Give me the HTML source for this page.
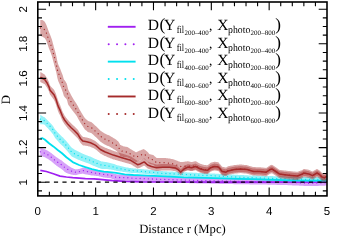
<!DOCTYPE html>
<html><head><meta charset="utf-8"><title>D vs r</title>
<style>html,body{margin:0;padding:0;background:#fff;}svg{display:block;}text{font-family:"Liberation Serif",serif;fill:#000;text-rendering:geometricPrecision;}.s{font-family:"Liberation Sans",sans-serif;font-size:11.5px;}</style></head><body>
<svg width="346" height="242" viewBox="0 0 346 242">
<rect x="0" y="0" width="346" height="242" fill="#fff"/>
<path d="M40.30 170.30 L46.40 171.50 L53.30 173.70 L60.00 176.10 L66.40 177.00 L72.70 177.70 L79.10 178.20 L85.40 178.60 L94.00 178.80 L100.00 179.40 L107.30 180.10 L112.70 180.60 L125.40 181.30 L142.00 181.80 L175.00 182.00 L230.00 182.10 L326.70 182.20" fill="none" stroke="#a020f0" stroke-width="1.70" stroke-linejoin="round"/>
<path d="M40.3 147.9 L40.8 148.0 L41.3 148.2 L41.8 148.3 L42.3 148.5 L42.8 148.6 L43.3 148.8 L43.8 148.9 L44.3 149.1 L44.8 149.3 L45.3 149.6 L45.8 149.8 L46.3 150.0 L46.8 150.3 L47.3 150.5 L47.8 150.8 L48.3 151.0 L48.8 151.4 L49.3 151.7 L49.8 152.0 L50.3 152.4 L50.8 152.7 L51.3 153.1 L51.8 153.4 L52.3 153.9 L52.8 154.3 L53.3 154.7 L53.8 155.1 L54.3 155.6 L54.8 156.0 L55.3 156.3 L55.8 156.7 L56.3 157.0 L56.8 157.4 L57.3 157.8 L57.8 158.1 L58.3 158.5 L58.8 158.8 L59.3 159.1 L59.8 159.4 L60.3 159.7 L60.8 160.0 L61.3 160.3 L61.8 160.6 L62.3 161.0 L62.8 161.4 L63.3 161.9 L63.8 162.3 L64.3 162.7 L64.8 163.2 L65.3 163.5 L65.8 163.8 L66.3 164.2 L66.8 164.5 L67.3 164.9 L67.8 165.3 L68.3 165.7 L68.8 166.0 L69.3 166.3 L69.8 166.6 L70.3 166.9 L70.8 167.2 L71.3 167.6 L71.8 167.9 L72.3 168.1 L72.8 168.3 L73.3 168.5 L73.8 168.7 L74.3 168.9 L74.8 169.0 L75.3 169.2 L75.8 169.4 L76.3 169.3 L76.8 169.3 L77.3 169.2 L77.8 169.2 L78.3 169.1 L78.8 169.1 L79.3 169.0 L79.8 168.8 L80.3 168.6 L80.8 168.4 L81.3 168.2 L81.8 168.0 L82.3 167.8 L82.8 167.6 L83.3 167.7 L83.8 167.7 L84.3 167.8 L84.8 167.8 L85.3 167.9 L85.8 168.0 L86.3 168.2 L86.8 168.3 L87.3 168.4 L87.8 168.6 L88.3 168.7 L88.8 168.9 L89.3 169.0 L89.8 169.1 L90.3 169.3 L90.8 169.4 L91.3 169.5 L91.8 169.6 L92.3 169.7 L92.8 169.8 L93.3 169.9 L93.8 170.0 L94.3 170.1 L94.8 170.2 L95.3 170.3 L95.8 170.4 L96.3 170.5 L96.8 170.6 L97.3 170.7 L97.8 170.8 L98.3 170.9 L98.8 171.0 L99.3 171.0 L99.8 171.1 L100.3 171.1 L100.8 171.2 L101.3 171.3 L101.8 171.3 L102.3 171.4 L102.8 171.4 L103.3 171.4 L103.8 171.5 L104.3 171.5 L104.8 171.6 L105.3 171.7 L105.8 171.7 L106.3 171.8 L106.8 171.8 L107.3 171.9 L107.8 172.0 L108.3 172.0 L108.8 172.1 L109.3 172.1 L109.8 172.2 L110.3 172.2 L110.8 172.3 L111.3 172.5 L111.8 172.7 L112.3 173.0 L112.8 173.2 L113.3 173.4 L113.8 173.6 L114.3 173.9 L114.8 174.0 L115.3 174.1 L115.8 174.1 L116.3 174.2 L116.8 174.2 L117.3 174.3 L117.8 174.4 L118.3 174.4 L118.8 174.5 L119.3 174.5 L119.8 174.5 L120.3 174.5 L120.8 174.5 L121.3 174.6 L121.8 174.6 L122.3 174.6 L122.8 174.6 L123.3 174.6 L123.8 174.6 L124.3 174.6 L124.8 174.6 L125.3 174.6 L125.8 174.7 L126.3 174.7 L126.8 174.7 L127.3 174.7 L127.8 174.7 L128.3 174.8 L128.8 174.8 L129.3 174.8 L129.8 174.9 L130.3 174.9 L130.8 175.0 L131.3 175.0 L131.8 175.0 L132.3 175.1 L132.8 175.1 L133.3 175.2 L133.8 175.2 L134.3 175.2 L134.8 175.3 L135.3 175.3 L135.8 175.3 L136.3 175.4 L136.8 175.4 L137.3 175.4 L137.8 175.4 L138.3 175.4 L138.8 175.5 L139.3 175.5 L139.8 175.5 L140.3 175.5 L140.8 175.5 L141.3 175.5 L141.8 175.6 L142.3 175.6 L142.8 175.6 L143.3 175.6 L143.8 175.6 L144.3 175.7 L144.8 175.7 L145.3 175.7 L145.8 175.7 L146.3 175.7 L146.8 175.8 L147.3 175.8 L147.8 175.8 L148.3 175.8 L148.8 175.8 L149.3 175.9 L149.8 175.9 L150.3 175.9 L150.8 175.9 L151.3 176.0 L151.8 176.0 L152.3 176.0 L152.8 176.0 L153.3 176.0 L153.8 176.1 L154.3 176.1 L154.8 176.1 L155.3 176.1 L155.8 176.1 L156.3 176.2 L156.8 176.2 L157.3 176.2 L157.8 176.2 L158.3 176.2 L158.8 176.3 L159.3 176.3 L159.8 176.3 L160.3 176.3 L160.8 176.3 L161.3 176.4 L161.8 176.4 L162.3 176.4 L162.8 176.4 L163.3 176.4 L163.8 176.4 L164.3 176.5 L164.8 176.5 L165.3 176.5 L165.8 176.5 L166.3 176.5 L166.8 176.5 L167.3 176.6 L167.8 176.6 L168.3 176.6 L168.8 176.6 L169.3 176.6 L169.8 176.6 L170.3 176.7 L170.8 176.7 L171.3 176.7 L171.8 176.7 L172.3 176.7 L172.8 176.8 L173.3 176.8 L173.8 176.8 L174.3 176.8 L174.8 176.8 L175.3 176.8 L175.8 176.9 L176.3 176.9 L176.8 176.9 L177.3 176.9 L177.8 176.9 L178.3 176.9 L178.8 176.9 L179.3 177.0 L179.8 177.0 L180.3 177.0 L180.8 177.0 L181.3 177.0 L181.8 177.0 L182.3 177.0 L182.8 177.1 L183.3 177.1 L183.8 177.1 L184.3 177.1 L184.8 177.1 L185.3 177.1 L185.8 177.1 L186.3 177.2 L186.8 177.2 L187.3 177.2 L187.8 177.2 L188.3 177.2 L188.8 177.2 L189.3 177.2 L189.8 177.3 L190.3 177.3 L190.8 177.3 L191.3 177.3 L191.8 177.3 L192.3 177.3 L192.8 177.3 L193.3 177.4 L193.8 177.4 L194.3 177.4 L194.8 177.4 L195.3 177.4 L195.8 177.4 L196.3 177.4 L196.8 177.5 L197.3 177.5 L197.8 177.5 L198.3 177.5 L198.8 177.5 L199.3 177.5 L199.8 177.6 L200.3 177.6 L200.8 177.6 L201.3 177.6 L201.8 177.6 L202.3 177.6 L202.8 177.6 L203.3 177.6 L203.8 177.6 L204.3 177.7 L204.8 177.7 L205.3 177.7 L205.8 177.7 L206.3 177.7 L206.8 177.7 L207.3 177.7 L207.8 177.7 L208.3 177.8 L208.8 177.8 L209.3 177.8 L209.8 177.8 L210.3 177.8 L210.8 177.8 L211.3 177.8 L211.8 177.8 L212.3 177.9 L212.8 177.9 L213.3 177.9 L213.8 177.9 L214.3 177.9 L214.8 177.9 L215.3 177.9 L215.8 177.9 L216.3 178.0 L216.8 178.0 L217.3 178.0 L217.8 178.0 L218.3 178.0 L218.8 178.0 L219.3 178.0 L219.8 178.0 L220.3 178.1 L220.8 178.1 L221.3 178.1 L221.8 178.1 L222.3 178.1 L222.8 178.1 L223.3 178.1 L223.8 178.1 L224.3 178.2 L224.8 178.2 L225.3 178.2 L225.8 178.2 L226.3 178.2 L226.8 178.2 L227.3 178.2 L227.8 178.2 L228.3 178.2 L228.8 178.3 L229.3 178.3 L229.8 178.3 L230.3 178.3 L230.8 178.3 L231.3 178.3 L231.8 178.3 L232.3 178.3 L232.8 178.3 L233.3 178.3 L233.8 178.3 L234.3 178.4 L234.8 178.4 L235.3 178.4 L235.8 178.4 L236.3 178.4 L236.8 178.4 L237.3 178.4 L237.8 178.4 L238.3 178.4 L238.8 178.4 L239.3 178.4 L239.8 178.4 L240.3 178.4 L240.8 178.4 L241.3 178.5 L241.8 178.5 L242.3 178.5 L242.8 178.5 L243.3 178.5 L243.8 178.5 L244.3 178.5 L244.8 178.5 L245.3 178.5 L245.8 178.5 L246.3 178.5 L246.8 178.5 L247.3 178.5 L247.8 178.5 L248.3 178.6 L248.8 178.6 L249.3 178.6 L249.8 178.6 L250.3 178.6 L250.8 178.6 L251.3 178.6 L251.8 178.6 L252.3 178.6 L252.8 178.6 L253.3 178.6 L253.8 178.6 L254.3 178.6 L254.8 178.6 L255.3 178.7 L255.8 178.7 L256.3 178.7 L256.8 178.7 L257.3 178.7 L257.8 178.7 L258.3 178.7 L258.8 178.7 L259.3 178.7 L259.8 178.7 L260.3 178.7 L260.8 178.7 L261.3 178.8 L261.8 178.8 L262.3 178.8 L262.8 178.8 L263.3 178.8 L263.8 178.8 L264.3 178.8 L264.8 178.8 L265.3 178.9 L265.8 178.9 L266.3 178.9 L266.8 178.9 L267.3 178.9 L267.8 178.9 L268.3 178.9 L268.8 178.9 L269.3 179.0 L269.8 179.0 L270.3 179.0 L270.8 179.0 L271.3 179.0 L271.8 179.0 L272.3 179.0 L272.8 179.0 L273.3 179.1 L273.8 179.1 L274.3 179.1 L274.8 179.1 L275.3 179.1 L275.8 179.1 L276.3 179.1 L276.8 179.1 L277.3 179.2 L277.8 179.2 L278.3 179.2 L278.8 179.2 L279.3 179.2 L279.8 179.2 L280.3 179.2 L280.8 179.2 L281.3 179.3 L281.8 179.3 L282.3 179.3 L282.8 179.3 L283.3 179.3 L283.8 179.3 L284.3 179.3 L284.8 179.3 L285.3 179.4 L285.8 179.4 L286.3 179.4 L286.8 179.4 L287.3 179.5 L287.8 179.5 L288.3 179.5 L288.8 179.5 L289.3 179.5 L289.8 179.6 L290.3 179.6 L290.8 179.6 L291.3 179.6 L291.8 179.7 L292.3 179.7 L292.8 179.7 L293.3 179.7 L293.8 179.7 L294.3 179.8 L294.8 179.8 L295.3 179.8 L295.8 179.8 L296.3 179.9 L296.8 179.9 L297.3 179.9 L297.8 179.9 L298.3 180.0 L298.8 180.0 L299.3 180.0 L299.8 180.0 L300.3 180.0 L300.8 180.1 L301.3 180.1 L301.8 180.1 L302.3 180.1 L302.8 180.2 L303.3 180.2 L303.8 180.2 L304.3 180.2 L304.8 180.2 L305.3 180.3 L305.8 180.3 L306.3 180.3 L306.8 180.3 L307.3 180.4 L307.8 180.4 L308.3 180.4 L308.8 180.4 L309.3 180.4 L309.8 180.5 L310.3 180.5 L310.8 180.5 L311.3 180.4 L311.8 180.4 L312.3 180.4 L312.8 180.4 L313.3 180.4 L313.8 180.4 L314.3 180.4 L314.8 180.3 L315.3 180.3 L315.8 180.3 L316.3 180.3 L316.8 180.3 L317.3 180.3 L317.8 180.3 L318.3 180.2 L318.8 180.2 L319.3 180.2 L319.8 180.2 L320.3 180.2 L320.8 180.2 L321.3 180.2 L321.8 180.1 L322.3 180.1 L322.8 180.1 L323.3 180.1 L323.8 180.1 L324.3 180.1 L324.8 180.1 L325.3 180.0 L325.8 180.0 L326.7 180.0 L326.7 185.6 L325.8 185.6 L325.3 185.6 L324.8 185.7 L324.3 185.7 L323.8 185.7 L323.3 185.7 L322.8 185.7 L322.3 185.7 L321.8 185.8 L321.3 185.8 L320.8 185.8 L320.3 185.8 L319.8 185.8 L319.3 185.8 L318.8 185.8 L318.3 185.9 L317.8 185.9 L317.3 185.9 L316.8 185.9 L316.3 185.9 L315.8 185.9 L315.3 186.0 L314.8 186.0 L314.3 186.0 L313.8 186.0 L313.3 186.0 L312.8 186.0 L312.3 186.0 L311.8 186.1 L311.3 186.1 L310.8 186.1 L310.3 186.1 L309.8 186.1 L309.3 186.1 L308.8 186.1 L308.3 186.0 L307.8 186.0 L307.3 186.0 L306.8 186.0 L306.3 186.0 L305.8 185.9 L305.3 185.9 L304.8 185.9 L304.3 185.9 L303.8 185.9 L303.3 185.8 L302.8 185.8 L302.3 185.8 L301.8 185.8 L301.3 185.7 L300.8 185.7 L300.3 185.7 L299.8 185.7 L299.3 185.7 L298.8 185.6 L298.3 185.6 L297.8 185.6 L297.3 185.6 L296.8 185.6 L296.3 185.5 L295.8 185.5 L295.3 185.5 L294.8 185.5 L294.3 185.4 L293.8 185.4 L293.3 185.4 L292.8 185.4 L292.3 185.4 L291.8 185.3 L291.3 185.3 L290.8 185.3 L290.3 185.3 L289.8 185.3 L289.3 185.2 L288.8 185.2 L288.3 185.2 L287.8 185.2 L287.3 185.1 L286.8 185.1 L286.3 185.1 L285.8 185.1 L285.3 185.1 L284.8 185.0 L284.3 185.0 L283.8 185.0 L283.3 185.0 L282.8 185.0 L282.3 185.0 L281.8 185.0 L281.3 185.0 L280.8 185.0 L280.3 184.9 L279.8 184.9 L279.3 184.9 L278.8 184.9 L278.3 184.9 L277.8 184.9 L277.3 184.9 L276.8 184.9 L276.3 184.8 L275.8 184.8 L275.3 184.8 L274.8 184.8 L274.3 184.8 L273.8 184.8 L273.3 184.8 L272.8 184.8 L272.3 184.8 L271.8 184.7 L271.3 184.7 L270.8 184.7 L270.3 184.7 L269.8 184.7 L269.3 184.7 L268.8 184.7 L268.3 184.7 L267.8 184.7 L267.3 184.6 L266.8 184.6 L266.3 184.6 L265.8 184.6 L265.3 184.6 L264.8 184.6 L264.3 184.6 L263.8 184.6 L263.3 184.6 L262.8 184.5 L262.3 184.5 L261.8 184.5 L261.3 184.5 L260.8 184.5 L260.3 184.5 L259.8 184.5 L259.3 184.5 L258.8 184.5 L258.3 184.5 L257.8 184.4 L257.3 184.4 L256.8 184.4 L256.3 184.4 L255.8 184.4 L255.3 184.4 L254.8 184.4 L254.3 184.4 L253.8 184.4 L253.3 184.4 L252.8 184.4 L252.3 184.4 L251.8 184.4 L251.3 184.4 L250.8 184.4 L250.3 184.4 L249.8 184.4 L249.3 184.3 L248.8 184.3 L248.3 184.3 L247.8 184.3 L247.3 184.3 L246.8 184.3 L246.3 184.3 L245.8 184.3 L245.3 184.3 L244.8 184.3 L244.3 184.3 L243.8 184.3 L243.3 184.3 L242.8 184.3 L242.3 184.3 L241.8 184.3 L241.3 184.2 L240.8 184.2 L240.3 184.2 L239.8 184.2 L239.3 184.2 L238.8 184.2 L238.3 184.2 L237.8 184.2 L237.3 184.2 L236.8 184.2 L236.3 184.2 L235.8 184.2 L235.3 184.2 L234.8 184.2 L234.3 184.2 L233.8 184.2 L233.3 184.1 L232.8 184.1 L232.3 184.1 L231.8 184.1 L231.3 184.1 L230.8 184.1 L230.3 184.1 L229.8 184.1 L229.3 184.1 L228.8 184.1 L228.3 184.1 L227.8 184.1 L227.3 184.0 L226.8 184.0 L226.3 184.0 L225.8 184.0 L225.3 184.0 L224.8 184.0 L224.3 184.0 L223.8 184.0 L223.3 184.0 L222.8 183.9 L222.3 183.9 L221.8 183.9 L221.3 183.9 L220.8 183.9 L220.3 183.9 L219.8 183.9 L219.3 183.9 L218.8 183.9 L218.3 183.8 L217.8 183.8 L217.3 183.8 L216.8 183.8 L216.3 183.8 L215.8 183.8 L215.3 183.8 L214.8 183.8 L214.3 183.8 L213.8 183.7 L213.3 183.7 L212.8 183.7 L212.3 183.7 L211.8 183.7 L211.3 183.7 L210.8 183.7 L210.3 183.7 L209.8 183.7 L209.3 183.6 L208.8 183.6 L208.3 183.6 L207.8 183.6 L207.3 183.6 L206.8 183.6 L206.3 183.6 L205.8 183.6 L205.3 183.6 L204.8 183.6 L204.3 183.5 L203.8 183.5 L203.3 183.5 L202.8 183.5 L202.3 183.5 L201.8 183.5 L201.3 183.5 L200.8 183.5 L200.3 183.5 L199.8 183.4 L199.3 183.4 L198.8 183.4 L198.3 183.4 L197.8 183.4 L197.3 183.4 L196.8 183.4 L196.3 183.3 L195.8 183.3 L195.3 183.3 L194.8 183.3 L194.3 183.3 L193.8 183.3 L193.3 183.3 L192.8 183.3 L192.3 183.2 L191.8 183.2 L191.3 183.2 L190.8 183.2 L190.3 183.2 L189.8 183.2 L189.3 183.2 L188.8 183.1 L188.3 183.1 L187.8 183.1 L187.3 183.1 L186.8 183.1 L186.3 183.1 L185.8 183.1 L185.3 183.0 L184.8 183.0 L184.3 183.0 L183.8 183.0 L183.3 183.0 L182.8 183.0 L182.3 183.0 L181.8 183.0 L181.3 182.9 L180.8 182.9 L180.3 182.9 L179.8 182.9 L179.3 182.9 L178.8 182.9 L178.3 182.9 L177.8 182.8 L177.3 182.8 L176.8 182.8 L176.3 182.8 L175.8 182.8 L175.3 182.8 L174.8 182.8 L174.3 182.7 L173.8 182.7 L173.3 182.7 L172.8 182.7 L172.3 182.7 L171.8 182.7 L171.3 182.7 L170.8 182.6 L170.3 182.6 L169.8 182.6 L169.3 182.6 L168.8 182.6 L168.3 182.6 L167.8 182.5 L167.3 182.5 L166.8 182.5 L166.3 182.5 L165.8 182.5 L165.3 182.5 L164.8 182.4 L164.3 182.4 L163.8 182.4 L163.3 182.4 L162.8 182.4 L162.3 182.4 L161.8 182.3 L161.3 182.3 L160.8 182.3 L160.3 182.3 L159.8 182.3 L159.3 182.3 L158.8 182.2 L158.3 182.2 L157.8 182.2 L157.3 182.2 L156.8 182.2 L156.3 182.1 L155.8 182.1 L155.3 182.1 L154.8 182.1 L154.3 182.1 L153.8 182.0 L153.3 182.0 L152.8 182.0 L152.3 182.0 L151.8 182.0 L151.3 181.9 L150.8 181.9 L150.3 181.9 L149.8 181.9 L149.3 181.9 L148.8 181.8 L148.3 181.8 L147.8 181.8 L147.3 181.8 L146.8 181.8 L146.3 181.7 L145.8 181.7 L145.3 181.7 L144.8 181.7 L144.3 181.7 L143.8 181.6 L143.3 181.6 L142.8 181.6 L142.3 181.6 L141.8 181.6 L141.3 181.5 L140.8 181.5 L140.3 181.5 L139.8 181.5 L139.3 181.5 L138.8 181.5 L138.3 181.4 L137.8 181.4 L137.3 181.4 L136.8 181.4 L136.3 181.4 L135.8 181.3 L135.3 181.3 L134.8 181.3 L134.3 181.2 L133.8 181.2 L133.3 181.2 L132.8 181.1 L132.3 181.1 L131.8 181.0 L131.3 181.0 L130.8 181.0 L130.3 180.9 L129.8 180.9 L129.3 180.8 L128.8 180.8 L128.3 180.8 L127.8 180.7 L127.3 180.7 L126.8 180.7 L126.3 180.7 L125.8 180.7 L125.3 180.6 L124.8 180.6 L124.3 180.6 L123.8 180.6 L123.3 180.6 L122.8 180.6 L122.3 180.6 L121.8 180.6 L121.3 180.6 L120.8 180.5 L120.3 180.5 L119.8 180.5 L119.3 180.5 L118.8 180.5 L118.3 180.4 L117.8 180.4 L117.3 180.3 L116.8 180.2 L116.3 180.2 L115.8 180.1 L115.3 180.1 L114.8 180.0 L114.3 179.9 L113.8 179.6 L113.3 179.4 L112.8 179.2 L112.3 179.0 L111.8 178.7 L111.3 178.5 L110.8 178.3 L110.3 178.2 L109.8 178.2 L109.3 178.1 L108.8 178.1 L108.3 178.0 L107.8 178.0 L107.3 177.9 L106.8 177.8 L106.3 177.8 L105.8 177.7 L105.3 177.7 L104.8 177.6 L104.3 177.5 L103.8 177.4 L103.3 177.4 L102.8 177.3 L102.3 177.1 L101.8 177.0 L101.3 176.9 L100.8 176.8 L100.3 176.6 L99.8 176.5 L99.3 176.4 L98.8 176.3 L98.3 176.1 L97.8 176.0 L97.3 176.0 L96.8 175.9 L96.3 175.9 L95.8 175.8 L95.3 175.8 L94.8 175.7 L94.3 175.7 L93.8 175.6 L93.3 175.6 L92.8 175.5 L92.3 175.5 L91.8 175.4 L91.3 175.4 L90.8 175.3 L90.3 175.2 L89.8 175.1 L89.3 175.0 L88.8 174.9 L88.3 174.8 L87.8 174.7 L87.3 174.6 L86.8 174.5 L86.3 174.5 L85.8 174.4 L85.3 174.3 L84.8 174.2 L84.3 174.0 L83.8 173.9 L83.3 173.7 L82.8 173.6 L82.3 173.7 L81.8 173.8 L81.3 173.9 L80.8 174.0 L80.3 174.1 L79.8 174.1 L79.3 174.2 L78.8 174.3 L78.3 174.5 L77.8 174.6 L77.3 174.8 L76.8 174.9 L76.3 175.1 L75.8 175.2 L75.3 175.1 L74.8 175.1 L74.3 175.0 L73.8 174.9 L73.3 174.9 L72.8 174.8 L72.3 174.8 L71.8 174.7 L71.3 174.5 L70.8 174.4 L70.3 174.3 L69.8 174.1 L69.3 174.0 L68.8 173.8 L68.3 173.7 L67.8 173.5 L67.3 173.3 L66.8 173.1 L66.3 172.9 L65.8 172.6 L65.3 172.3 L64.8 171.9 L64.3 171.5 L63.8 171.0 L63.3 170.6 L62.8 170.1 L62.3 169.7 L61.8 169.3 L61.3 168.9 L60.8 168.6 L60.3 168.3 L59.8 168.0 L59.3 167.6 L58.8 167.3 L58.3 167.0 L57.8 166.6 L57.3 166.2 L56.8 165.9 L56.3 165.5 L55.8 165.1 L55.3 164.7 L54.8 164.3 L54.3 163.9 L53.8 163.5 L53.3 163.0 L52.8 162.6 L52.3 162.2 L51.8 161.7 L51.3 161.3 L50.8 161.0 L50.3 160.6 L49.8 160.2 L49.3 159.9 L48.8 159.5 L48.3 159.2 L47.8 158.9 L47.3 158.6 L46.8 158.4 L46.3 158.1 L45.8 157.8 L45.3 157.6 L44.8 157.3 L44.3 157.1 L43.8 156.9 L43.3 156.7 L42.8 156.5 L42.3 156.4 L41.8 156.2 L41.3 156.0 L40.8 155.9 L40.3 155.7 Z" fill="#a020f0" fill-opacity="0.42" stroke="none"/>
<path d="M40.30 151.80 L44.40 153.10 L48.30 155.10 L51.60 157.40 L54.60 160.00 L58.10 162.60 L61.90 165.00 L65.10 167.80 L68.30 169.70 L72.10 171.40 L75.90 172.30 L79.30 171.60 L82.90 170.60 L86.70 171.40 L90.50 172.30 L94.40 172.90 L98.20 173.50 L102.50 174.30 L107.30 174.90 L110.80 175.30 L114.60 177.00 L119.10 177.50 L127.40 177.70 L135.00 178.30 L142.60 178.60 L160.00 179.30 L175.00 179.80 L200.00 180.50 L230.00 181.20 L260.00 181.60 L285.00 182.20 L310.00 183.30 L326.70 182.80" fill="none" stroke="#a020f0" stroke-width="1.3" stroke-linecap="round" stroke-dasharray="0.01 4.1"/>
<path d="M40.30 138.60 L42.50 138.20 L44.70 139.50 L49.00 143.20 L53.30 146.40 L57.70 150.00 L62.00 153.30 L66.40 157.30 L72.70 162.10 L79.10 165.00 L85.40 167.20 L91.80 169.10 L98.20 170.60 L103.90 171.60 L107.30 171.80 L116.00 172.80 L124.70 174.30 L133.40 175.00 L142.00 175.40 L160.00 176.20 L184.00 177.40 L205.00 177.80 L230.00 178.70 L260.00 179.40 L290.00 180.30 L310.00 180.70 L326.70 180.60" fill="none" stroke="#00e0ee" stroke-width="1.85" stroke-linejoin="round"/>
<path d="M40.3 114.7 L40.8 115.0 L41.3 115.4 L41.8 115.7 L42.3 116.1 L42.8 116.4 L43.3 116.8 L43.8 117.0 L44.3 117.1 L44.8 117.6 L45.3 118.1 L45.8 118.5 L46.3 119.0 L46.8 119.5 L47.3 120.0 L47.8 120.5 L48.3 121.0 L48.8 121.5 L49.3 122.0 L49.8 122.5 L50.3 122.9 L50.8 123.5 L51.3 124.1 L51.8 124.6 L52.3 125.2 L52.8 125.7 L53.3 126.5 L53.8 127.3 L54.3 128.2 L54.8 129.0 L55.3 129.7 L55.8 130.3 L56.3 130.8 L56.8 131.3 L57.3 131.9 L57.8 132.4 L58.3 133.0 L58.8 133.5 L59.3 134.0 L59.8 134.5 L60.3 135.1 L60.8 135.5 L61.3 136.0 L61.8 136.4 L62.3 136.9 L62.8 137.3 L63.3 137.8 L63.8 138.4 L64.3 138.9 L64.8 139.5 L65.3 140.0 L65.8 140.6 L66.3 141.1 L66.8 141.7 L67.3 142.2 L67.8 142.9 L68.3 143.5 L68.8 144.1 L69.3 144.7 L69.8 145.4 L70.3 146.0 L70.8 146.7 L71.3 147.3 L71.8 147.8 L72.3 148.1 L72.8 148.4 L73.3 148.7 L73.8 149.1 L74.3 149.4 L74.8 149.7 L75.3 150.0 L75.8 150.2 L76.3 150.5 L76.8 150.8 L77.3 151.0 L77.8 151.3 L78.3 151.6 L78.8 151.8 L79.3 152.1 L79.8 152.3 L80.3 152.5 L80.8 152.8 L81.3 153.0 L81.8 153.3 L82.3 153.5 L82.8 153.7 L83.3 153.9 L83.8 154.1 L84.3 154.4 L84.8 154.6 L85.3 154.8 L85.8 155.0 L86.3 155.2 L86.8 155.3 L87.3 155.5 L87.8 155.7 L88.3 155.9 L88.8 156.0 L89.3 156.2 L89.8 156.4 L90.3 156.6 L90.8 156.8 L91.3 157.1 L91.8 157.3 L92.3 157.6 L92.8 157.8 L93.3 158.1 L93.8 158.3 L94.3 158.5 L94.8 158.7 L95.3 158.9 L95.8 159.1 L96.3 159.3 L96.8 159.5 L97.3 159.7 L97.8 159.9 L98.3 160.1 L98.8 160.3 L99.3 160.5 L99.8 160.7 L100.3 160.9 L100.8 161.1 L101.3 161.4 L101.8 161.4 L102.3 161.5 L102.8 161.6 L103.3 161.7 L103.8 161.8 L104.3 161.8 L104.8 161.9 L105.3 162.0 L105.8 162.1 L106.3 162.1 L106.8 162.2 L107.3 162.3 L107.8 162.4 L108.3 162.5 L108.8 162.7 L109.3 162.8 L109.8 162.9 L110.3 163.0 L110.8 163.2 L111.3 163.3 L111.8 163.4 L112.3 163.5 L112.8 163.7 L113.3 163.8 L113.8 164.0 L114.3 164.1 L114.8 164.3 L115.3 164.5 L115.8 164.7 L116.3 164.9 L116.8 165.1 L117.3 165.2 L117.8 165.4 L118.3 165.5 L118.8 165.6 L119.3 165.7 L119.8 165.8 L120.3 165.9 L120.8 166.1 L121.3 166.2 L121.8 166.3 L122.3 166.4 L122.8 166.6 L123.3 166.7 L123.8 166.8 L124.3 166.9 L124.8 167.1 L125.3 167.2 L125.8 167.3 L126.3 167.4 L126.8 167.5 L127.3 167.5 L127.8 167.6 L128.3 167.7 L128.8 167.8 L129.3 167.9 L129.8 168.0 L130.3 168.1 L130.8 168.1 L131.3 168.2 L131.8 168.2 L132.3 168.3 L132.8 168.3 L133.3 168.4 L133.8 168.4 L134.3 168.5 L134.8 168.5 L135.3 168.6 L135.8 168.6 L136.3 168.7 L136.8 168.7 L137.3 168.8 L137.8 168.8 L138.3 168.9 L138.8 168.9 L139.3 169.0 L139.8 169.0 L140.3 169.0 L140.8 169.1 L141.3 169.1 L141.8 169.2 L142.3 169.2 L142.8 169.3 L143.3 169.3 L143.8 169.3 L144.3 169.4 L144.8 169.4 L145.3 169.5 L145.8 169.5 L146.3 169.6 L146.8 169.6 L147.3 169.6 L147.8 169.7 L148.3 169.7 L148.8 169.8 L149.3 169.8 L149.8 169.9 L150.3 169.9 L150.8 169.9 L151.3 170.0 L151.8 170.0 L152.3 170.1 L152.8 170.1 L153.3 170.2 L153.8 170.2 L154.3 170.3 L154.8 170.4 L155.3 170.4 L155.8 170.5 L156.3 170.5 L156.8 170.6 L157.3 170.6 L157.8 170.7 L158.3 170.7 L158.8 170.8 L159.3 170.8 L159.8 170.9 L160.3 170.9 L160.8 171.0 L161.3 171.1 L161.8 171.1 L162.3 171.1 L162.8 171.1 L163.3 171.2 L163.8 171.2 L164.3 171.2 L164.8 171.2 L165.3 171.3 L165.8 171.3 L166.3 171.3 L166.8 171.3 L167.3 171.4 L167.8 171.4 L168.3 171.4 L168.8 171.4 L169.3 171.5 L169.8 171.5 L170.3 171.5 L170.8 171.5 L171.3 171.6 L171.8 171.6 L172.3 171.6 L172.8 171.6 L173.3 171.7 L173.8 171.7 L174.3 171.7 L174.8 171.7 L175.3 171.8 L175.8 171.8 L176.3 171.8 L176.8 171.8 L177.3 171.8 L177.8 171.9 L178.3 171.9 L178.8 171.9 L179.3 171.9 L179.8 172.0 L180.3 172.0 L180.8 172.0 L181.3 172.0 L181.8 172.1 L182.3 172.1 L182.8 172.1 L183.3 172.2 L183.8 172.2 L184.3 172.2 L184.8 172.2 L185.3 172.3 L185.8 172.3 L186.3 172.3 L186.8 172.3 L187.3 172.4 L187.8 172.4 L188.3 172.4 L188.8 172.4 L189.3 172.5 L189.8 172.5 L190.3 172.5 L190.8 172.5 L191.3 172.6 L191.8 172.6 L192.3 172.6 L192.8 172.7 L193.3 172.7 L193.8 172.7 L194.3 172.7 L194.8 172.8 L195.3 172.8 L195.8 172.8 L196.3 172.8 L196.8 172.8 L197.3 172.9 L197.8 172.9 L198.3 172.9 L198.8 172.9 L199.3 172.9 L199.8 173.0 L200.3 173.0 L200.8 173.0 L201.3 173.0 L201.8 173.0 L202.3 173.1 L202.8 173.1 L203.3 173.1 L203.8 173.1 L204.3 173.1 L204.8 173.2 L205.3 173.2 L205.8 173.2 L206.3 173.2 L206.8 173.2 L207.3 173.3 L207.8 173.3 L208.3 173.3 L208.8 173.3 L209.3 173.3 L209.8 173.4 L210.3 173.4 L210.8 173.4 L211.3 173.4 L211.8 173.5 L212.3 173.5 L212.8 173.5 L213.3 173.5 L213.8 173.6 L214.3 173.6 L214.8 173.6 L215.3 173.7 L215.8 173.7 L216.3 173.7 L216.8 173.7 L217.3 173.8 L217.8 173.8 L218.3 173.8 L218.8 173.8 L219.3 173.9 L219.8 173.9 L220.3 173.9 L220.8 174.0 L221.3 174.0 L221.8 174.0 L222.3 174.0 L222.8 174.1 L223.3 174.1 L223.8 174.1 L224.3 174.1 L224.8 174.2 L225.3 174.2 L225.8 174.2 L226.3 174.2 L226.8 174.3 L227.3 174.3 L227.8 174.3 L228.3 174.4 L228.8 174.4 L229.3 174.4 L229.8 174.4 L230.3 174.5 L230.8 174.5 L231.3 174.5 L231.8 174.5 L232.3 174.6 L232.8 174.6 L233.3 174.6 L233.8 174.6 L234.3 174.7 L234.8 174.7 L235.3 174.7 L235.8 174.7 L236.3 174.8 L236.8 174.8 L237.3 174.8 L237.8 174.8 L238.3 174.9 L238.8 174.9 L239.3 174.9 L239.8 174.9 L240.3 175.0 L240.8 175.0 L241.3 175.0 L241.8 175.0 L242.3 175.1 L242.8 175.1 L243.3 175.1 L243.8 175.1 L244.3 175.2 L244.8 175.2 L245.3 175.2 L245.8 175.2 L246.3 175.3 L246.8 175.3 L247.3 175.3 L247.8 175.3 L248.3 175.4 L248.8 175.4 L249.3 175.4 L249.8 175.4 L250.3 175.4 L250.8 175.5 L251.3 175.5 L251.8 175.5 L252.3 175.5 L252.8 175.5 L253.3 175.5 L253.8 175.6 L254.3 175.6 L254.8 175.6 L255.3 175.6 L255.8 175.6 L256.3 175.6 L256.8 175.6 L257.3 175.7 L257.8 175.7 L258.3 175.7 L258.8 175.7 L259.3 175.7 L259.8 175.7 L260.3 175.7 L260.8 175.8 L261.3 175.8 L261.8 175.8 L262.3 175.8 L262.8 175.8 L263.3 175.8 L263.8 175.8 L264.3 175.9 L264.8 175.9 L265.3 175.9 L265.8 175.9 L266.3 175.9 L266.8 175.9 L267.3 176.0 L267.8 176.0 L268.3 176.0 L268.8 176.0 L269.3 176.0 L269.8 176.0 L270.3 176.0 L270.8 176.1 L271.3 176.1 L271.8 176.1 L272.3 176.1 L272.8 176.1 L273.3 176.2 L273.8 176.2 L274.3 176.2 L274.8 176.2 L275.3 176.2 L275.8 176.3 L276.3 176.3 L276.8 176.3 L277.3 176.3 L277.8 176.3 L278.3 176.4 L278.8 176.4 L279.3 176.4 L279.8 176.4 L280.3 176.4 L280.8 176.5 L281.3 176.5 L281.8 176.5 L282.3 176.5 L282.8 176.5 L283.3 176.6 L283.8 176.6 L284.3 176.6 L284.8 176.6 L285.3 176.6 L285.8 176.7 L286.3 176.7 L286.8 176.7 L287.3 176.7 L287.8 176.7 L288.3 176.8 L288.8 176.8 L289.3 176.8 L289.8 176.8 L290.3 176.8 L290.8 176.8 L291.3 176.8 L291.8 176.8 L292.3 176.9 L292.8 176.9 L293.3 176.9 L293.8 176.9 L294.3 176.9 L294.8 176.9 L295.3 176.9 L295.8 176.9 L296.3 176.9 L296.8 176.9 L297.3 176.9 L297.8 176.9 L298.3 176.9 L298.8 176.9 L299.3 177.0 L299.8 177.0 L300.3 177.0 L300.8 177.0 L301.3 177.0 L301.8 177.0 L302.3 177.0 L302.8 177.0 L303.3 177.0 L303.8 177.0 L304.3 177.0 L304.8 177.0 L305.3 177.0 L305.8 177.0 L306.3 177.1 L306.8 177.1 L307.3 177.1 L307.8 177.1 L308.3 177.1 L308.8 177.1 L309.3 177.1 L309.8 177.1 L310.3 177.1 L310.8 177.1 L311.3 177.1 L311.8 177.1 L312.3 177.1 L312.8 177.1 L313.3 177.1 L313.8 177.1 L314.3 177.1 L314.8 177.1 L315.3 177.1 L315.8 177.1 L316.3 177.1 L316.8 177.1 L317.3 177.1 L317.8 177.1 L318.3 177.1 L318.8 177.1 L319.3 177.0 L319.8 177.0 L320.3 177.0 L320.8 177.0 L321.3 177.0 L321.8 177.0 L322.3 177.0 L322.8 177.0 L323.3 177.0 L323.8 177.0 L324.3 177.0 L324.8 177.0 L325.3 177.0 L325.8 177.0 L326.7 177.0 L326.7 181.6 L325.8 181.6 L325.3 181.6 L324.8 181.6 L324.3 181.6 L323.8 181.6 L323.3 181.6 L322.8 181.6 L322.3 181.6 L321.8 181.6 L321.3 181.6 L320.8 181.6 L320.3 181.6 L319.8 181.6 L319.3 181.6 L318.8 181.6 L318.3 181.6 L317.8 181.6 L317.3 181.7 L316.8 181.7 L316.3 181.7 L315.8 181.7 L315.3 181.7 L314.8 181.7 L314.3 181.7 L313.8 181.7 L313.3 181.7 L312.8 181.7 L312.3 181.7 L311.8 181.7 L311.3 181.7 L310.8 181.7 L310.3 181.7 L309.8 181.7 L309.3 181.7 L308.8 181.7 L308.3 181.7 L307.8 181.7 L307.3 181.6 L306.8 181.6 L306.3 181.6 L305.8 181.6 L305.3 181.6 L304.8 181.6 L304.3 181.6 L303.8 181.6 L303.3 181.6 L302.8 181.6 L302.3 181.6 L301.8 181.6 L301.3 181.6 L300.8 181.5 L300.3 181.5 L299.8 181.5 L299.3 181.5 L298.8 181.5 L298.3 181.5 L297.8 181.5 L297.3 181.5 L296.8 181.5 L296.3 181.5 L295.8 181.5 L295.3 181.5 L294.8 181.5 L294.3 181.4 L293.8 181.4 L293.3 181.4 L292.8 181.4 L292.3 181.4 L291.8 181.4 L291.3 181.4 L290.8 181.4 L290.3 181.4 L289.8 181.4 L289.3 181.4 L288.8 181.3 L288.3 181.3 L287.8 181.3 L287.3 181.3 L286.8 181.3 L286.3 181.2 L285.8 181.2 L285.3 181.2 L284.8 181.2 L284.3 181.1 L283.8 181.1 L283.3 181.1 L282.8 181.1 L282.3 181.1 L281.8 181.0 L281.3 181.0 L280.8 181.0 L280.3 181.0 L279.8 181.0 L279.3 180.9 L278.8 180.9 L278.3 180.9 L277.8 180.9 L277.3 180.9 L276.8 180.8 L276.3 180.8 L275.8 180.8 L275.3 180.8 L274.8 180.8 L274.3 180.7 L273.8 180.7 L273.3 180.7 L272.8 180.7 L272.3 180.7 L271.8 180.6 L271.3 180.6 L270.8 180.6 L270.3 180.6 L269.8 180.6 L269.3 180.5 L268.8 180.5 L268.3 180.5 L267.8 180.5 L267.3 180.5 L266.8 180.5 L266.3 180.5 L265.8 180.4 L265.3 180.4 L264.8 180.4 L264.3 180.4 L263.8 180.4 L263.3 180.4 L262.8 180.4 L262.3 180.3 L261.8 180.3 L261.3 180.3 L260.8 180.3 L260.3 180.3 L259.8 180.3 L259.3 180.2 L258.8 180.2 L258.3 180.2 L257.8 180.2 L257.3 180.2 L256.8 180.2 L256.3 180.2 L255.8 180.1 L255.3 180.1 L254.8 180.1 L254.3 180.1 L253.8 180.1 L253.3 180.1 L252.8 180.0 L252.3 180.0 L251.8 180.0 L251.3 180.0 L250.8 180.0 L250.3 180.0 L249.8 179.9 L249.3 179.9 L248.8 179.9 L248.3 179.9 L247.8 179.8 L247.3 179.8 L246.8 179.8 L246.3 179.8 L245.8 179.7 L245.3 179.7 L244.8 179.7 L244.3 179.7 L243.8 179.6 L243.3 179.6 L242.8 179.6 L242.3 179.6 L241.8 179.5 L241.3 179.5 L240.8 179.5 L240.3 179.5 L239.8 179.4 L239.3 179.4 L238.8 179.4 L238.3 179.4 L237.8 179.3 L237.3 179.3 L236.8 179.3 L236.3 179.3 L235.8 179.2 L235.3 179.2 L234.8 179.2 L234.3 179.2 L233.8 179.1 L233.3 179.1 L232.8 179.1 L232.3 179.1 L231.8 179.0 L231.3 179.0 L230.8 179.0 L230.3 179.0 L229.8 178.9 L229.3 178.9 L228.8 178.9 L228.3 178.9 L227.8 178.8 L227.3 178.8 L226.8 178.8 L226.3 178.7 L225.8 178.7 L225.3 178.7 L224.8 178.7 L224.3 178.6 L223.8 178.6 L223.3 178.6 L222.8 178.5 L222.3 178.5 L221.8 178.5 L221.3 178.5 L220.8 178.4 L220.3 178.4 L219.8 178.4 L219.3 178.4 L218.8 178.3 L218.3 178.3 L217.8 178.3 L217.3 178.2 L216.8 178.2 L216.3 178.2 L215.8 178.2 L215.3 178.1 L214.8 178.1 L214.3 178.1 L213.8 178.0 L213.3 178.0 L212.8 178.0 L212.3 178.0 L211.8 177.9 L211.3 177.9 L210.8 177.9 L210.3 177.9 L209.8 177.8 L209.3 177.8 L208.8 177.8 L208.3 177.8 L207.8 177.7 L207.3 177.7 L206.8 177.7 L206.3 177.7 L205.8 177.7 L205.3 177.6 L204.8 177.6 L204.3 177.6 L203.8 177.6 L203.3 177.6 L202.8 177.5 L202.3 177.5 L201.8 177.5 L201.3 177.5 L200.8 177.5 L200.3 177.4 L199.8 177.4 L199.3 177.4 L198.8 177.4 L198.3 177.4 L197.8 177.3 L197.3 177.3 L196.8 177.3 L196.3 177.3 L195.8 177.3 L195.3 177.2 L194.8 177.2 L194.3 177.2 L193.8 177.2 L193.3 177.1 L192.8 177.1 L192.3 177.1 L191.8 177.1 L191.3 177.0 L190.8 177.0 L190.3 177.0 L189.8 177.0 L189.3 176.9 L188.8 176.9 L188.3 176.9 L187.8 176.8 L187.3 176.8 L186.8 176.8 L186.3 176.8 L185.8 176.7 L185.3 176.7 L184.8 176.7 L184.3 176.7 L183.8 176.6 L183.3 176.6 L182.8 176.6 L182.3 176.5 L181.8 176.5 L181.3 176.5 L180.8 176.5 L180.3 176.4 L179.8 176.4 L179.3 176.4 L178.8 176.4 L178.3 176.3 L177.8 176.3 L177.3 176.3 L176.8 176.3 L176.3 176.2 L175.8 176.2 L175.3 176.2 L174.8 176.2 L174.3 176.1 L173.8 176.1 L173.3 176.1 L172.8 176.1 L172.3 176.0 L171.8 176.0 L171.3 176.0 L170.8 176.0 L170.3 175.9 L169.8 175.9 L169.3 175.9 L168.8 175.9 L168.3 175.8 L167.8 175.8 L167.3 175.8 L166.8 175.8 L166.3 175.7 L165.8 175.7 L165.3 175.7 L164.8 175.7 L164.3 175.6 L163.8 175.6 L163.3 175.6 L162.8 175.6 L162.3 175.5 L161.8 175.5 L161.3 175.5 L160.8 175.4 L160.3 175.4 L159.8 175.3 L159.3 175.3 L158.8 175.2 L158.3 175.2 L157.8 175.1 L157.3 175.0 L156.8 175.0 L156.3 174.9 L155.8 174.9 L155.3 174.8 L154.8 174.8 L154.3 174.7 L153.8 174.7 L153.3 174.6 L152.8 174.5 L152.3 174.5 L151.8 174.4 L151.3 174.4 L150.8 174.3 L150.3 174.3 L149.8 174.3 L149.3 174.2 L148.8 174.2 L148.3 174.1 L147.8 174.1 L147.3 174.1 L146.8 174.0 L146.3 174.0 L145.8 173.9 L145.3 173.9 L144.8 173.8 L144.3 173.8 L143.8 173.8 L143.3 173.7 L142.8 173.7 L142.3 173.6 L141.8 173.6 L141.3 173.5 L140.8 173.5 L140.3 173.5 L139.8 173.4 L139.3 173.4 L138.8 173.3 L138.3 173.3 L137.8 173.2 L137.3 173.2 L136.8 173.2 L136.3 173.1 L135.8 173.1 L135.3 173.1 L134.8 173.1 L134.3 173.0 L133.8 173.0 L133.3 173.0 L132.8 172.9 L132.3 172.9 L131.8 172.9 L131.3 172.9 L130.8 172.8 L130.3 172.8 L129.8 172.8 L129.3 172.7 L128.8 172.6 L128.3 172.6 L127.8 172.5 L127.3 172.4 L126.8 172.4 L126.3 172.3 L125.8 172.2 L125.3 172.2 L124.8 172.1 L124.3 172.0 L123.8 171.9 L123.3 171.9 L122.8 171.8 L122.3 171.7 L121.8 171.6 L121.3 171.5 L120.8 171.5 L120.3 171.4 L119.8 171.3 L119.3 171.3 L118.8 171.2 L118.3 171.1 L117.8 171.1 L117.3 171.0 L116.8 170.9 L116.3 170.8 L115.8 170.6 L115.3 170.5 L114.8 170.4 L114.3 170.2 L113.8 170.1 L113.3 170.0 L112.8 169.9 L112.3 169.8 L111.8 169.7 L111.3 169.7 L110.8 169.6 L110.3 169.5 L109.8 169.5 L109.3 169.4 L108.8 169.3 L108.3 169.2 L107.8 169.2 L107.3 169.1 L106.8 169.1 L106.3 169.1 L105.8 169.0 L105.3 169.0 L104.8 169.0 L104.3 169.0 L103.8 168.9 L103.3 168.9 L102.8 168.9 L102.3 168.9 L101.8 168.9 L101.3 168.8 L100.8 168.7 L100.3 168.5 L99.8 168.3 L99.3 168.1 L98.8 167.9 L98.3 167.7 L97.8 167.5 L97.3 167.3 L96.8 167.1 L96.3 166.9 L95.8 166.7 L95.3 166.5 L94.8 166.3 L94.3 166.1 L93.8 165.9 L93.3 165.7 L92.8 165.4 L92.3 165.2 L91.8 164.9 L91.3 164.7 L90.8 164.4 L90.3 164.2 L89.8 164.0 L89.3 163.8 L88.8 163.6 L88.3 163.5 L87.8 163.3 L87.3 163.1 L86.8 162.9 L86.3 162.8 L85.8 162.6 L85.3 162.4 L84.8 162.2 L84.3 162.0 L83.8 161.8 L83.3 161.7 L82.8 161.5 L82.3 161.3 L81.8 161.1 L81.3 160.9 L80.8 160.7 L80.3 160.5 L79.8 160.3 L79.3 160.1 L78.8 159.9 L78.3 159.7 L77.8 159.5 L77.3 159.3 L76.8 159.0 L76.3 158.8 L75.8 158.6 L75.3 158.3 L74.8 158.1 L74.3 157.8 L73.8 157.6 L73.3 157.3 L72.8 157.0 L72.3 156.7 L71.8 156.4 L71.3 156.0 L70.8 155.4 L70.3 154.8 L69.8 154.2 L69.3 153.5 L68.8 152.9 L68.3 152.3 L67.8 151.7 L67.3 151.0 L66.8 150.5 L66.3 149.9 L65.8 149.4 L65.3 148.8 L64.8 148.3 L64.3 147.7 L63.8 147.2 L63.3 146.6 L62.8 146.1 L62.3 145.7 L61.8 145.2 L61.3 144.8 L60.8 144.3 L60.3 143.9 L59.8 143.3 L59.3 142.8 L58.8 142.2 L58.3 141.6 L57.8 141.1 L57.3 140.5 L56.8 139.9 L56.3 139.3 L55.8 138.7 L55.3 138.2 L54.8 137.4 L54.3 136.5 L53.8 135.7 L53.3 134.8 L52.8 134.0 L52.3 133.4 L51.8 132.8 L51.3 132.2 L50.8 131.6 L50.3 131.0 L49.8 130.4 L49.3 129.9 L48.8 129.4 L48.3 128.8 L47.8 128.3 L47.3 127.8 L46.8 127.2 L46.3 126.7 L45.8 126.2 L45.3 125.6 L44.8 125.1 L44.3 124.6 L43.8 124.4 L43.3 124.3 L42.8 124.3 L42.3 124.3 L41.8 124.3 L41.3 124.3 L40.8 124.3 L40.3 124.3 Z" fill="#00e0ee" fill-opacity="0.42" stroke="none"/>
<path d="M40.30 119.20 L44.40 120.60 L47.30 123.50 L50.30 126.50 L52.90 129.50 L55.10 133.40 L57.70 136.50 L60.30 139.50 L62.90 141.80 L67.20 146.50 L71.50 151.90 L74.60 153.80 L78.40 155.70 L82.30 157.40 L86.10 158.90 L89.90 160.20 L93.70 162.10 L97.50 163.60 L101.30 165.10 L107.30 165.70 L113.40 166.90 L117.20 168.10 L121.00 168.80 L125.40 169.70 L129.90 170.40 L137.50 171.00 L142.00 171.40 L151.50 172.20 L161.60 173.30 L171.80 173.80 L180.00 174.20 L195.00 175.00 L210.00 175.60 L230.00 176.70 L250.00 177.70 L270.00 178.30 L290.00 179.10 L310.00 179.40 L326.70 179.30" fill="none" stroke="#00e0ee" stroke-width="1.3" stroke-linecap="round" stroke-dasharray="0.01 4.1"/>
<path d="M40.3 71.9 L40.8 72.2 L41.3 72.5 L41.8 72.8 L42.3 73.1 L42.8 73.4 L43.3 73.7 L43.8 74.0 L44.3 74.3 L44.8 74.7 L45.3 75.5 L45.8 76.3 L46.3 77.0 L46.8 77.8 L47.3 78.6 L47.8 79.7 L48.3 80.7 L48.8 81.8 L49.3 83.3 L49.8 85.0 L50.3 85.8 L50.8 86.4 L51.3 86.9 L51.8 87.5 L52.3 88.0 L52.8 88.6 L53.3 89.1 L53.8 89.6 L54.3 90.3 L54.8 91.4 L55.3 92.5 L55.8 93.5 L56.3 95.0 L56.8 96.5 L57.3 98.0 L57.8 99.5 L58.3 100.9 L58.8 102.2 L59.3 103.3 L59.8 104.5 L60.3 105.6 L60.8 107.0 L61.3 108.3 L61.8 109.7 L62.3 111.0 L62.8 112.2 L63.3 113.1 L63.8 114.1 L64.3 115.1 L64.8 115.9 L65.3 116.6 L65.8 117.2 L66.3 117.9 L66.8 118.5 L67.3 119.2 L67.8 119.8 L68.3 120.3 L68.8 120.9 L69.3 121.4 L69.8 121.9 L70.3 122.4 L70.8 123.0 L71.3 123.5 L71.8 124.0 L72.3 124.4 L72.8 124.9 L73.3 125.4 L73.8 125.8 L74.3 126.3 L74.8 126.8 L75.3 127.3 L75.8 127.8 L76.3 128.3 L76.8 128.8 L77.3 129.3 L77.8 129.8 L78.3 130.6 L78.8 131.5 L79.3 132.3 L79.8 133.2 L80.3 134.0 L80.8 134.6 L81.3 135.2 L81.8 135.7 L82.3 136.2 L82.8 136.7 L83.3 136.9 L83.8 137.0 L84.3 137.1 L84.8 137.2 L85.3 137.3 L85.8 137.4 L86.3 137.5 L86.8 137.6 L87.3 137.7 L87.8 137.8 L88.3 138.0 L88.8 138.1 L89.3 138.3 L89.8 138.4 L90.3 138.5 L90.8 138.7 L91.3 139.0 L91.8 139.3 L92.3 139.5 L92.8 139.8 L93.3 140.0 L93.8 140.3 L94.3 140.5 L94.8 140.8 L95.3 141.1 L95.8 141.5 L96.3 141.9 L96.8 142.3 L97.3 142.7 L97.8 143.2 L98.3 143.6 L98.8 144.0 L99.3 144.5 L99.8 144.9 L100.3 145.3 L100.8 145.6 L101.3 145.8 L101.8 146.1 L102.3 146.3 L102.8 146.6 L103.3 146.8 L103.8 147.1 L104.3 147.3 L104.8 147.6 L105.3 147.7 L105.8 147.9 L106.3 148.1 L106.8 148.3 L107.3 148.5 L107.8 148.7 L108.3 148.9 L108.8 149.0 L109.3 149.2 L109.8 149.4 L110.3 149.6 L110.8 149.8 L111.3 150.0 L111.8 150.2 L112.3 150.4 L112.8 150.6 L113.3 150.8 L113.8 151.0 L114.3 151.2 L114.8 151.3 L115.3 151.5 L115.8 151.6 L116.3 151.8 L116.8 151.9 L117.3 152.1 L117.8 152.3 L118.3 152.4 L118.8 152.6 L119.3 152.7 L119.8 152.9 L120.3 153.0 L120.8 153.2 L121.3 153.4 L121.8 153.5 L122.3 153.7 L122.8 153.8 L123.3 154.0 L123.8 154.1 L124.3 154.3 L124.8 154.5 L125.3 154.6 L125.8 154.8 L126.3 154.9 L126.8 155.1 L127.3 155.2 L127.8 155.4 L128.3 155.6 L128.8 155.7 L129.3 155.9 L129.8 156.0 L130.3 156.2 L130.8 156.4 L131.3 156.7 L131.8 157.1 L132.3 157.4 L132.8 157.7 L133.3 158.1 L133.8 158.4 L134.3 158.7 L134.8 159.1 L135.3 159.4 L135.8 159.7 L136.3 160.1 L136.8 160.4 L137.3 160.7 L137.8 160.9 L138.3 160.7 L138.8 160.6 L139.3 160.5 L139.8 160.4 L140.3 160.2 L140.8 159.9 L141.3 159.7 L141.8 159.4 L142.3 159.2 L142.8 158.9 L143.3 158.7 L143.8 158.5 L144.3 158.5 L144.8 158.8 L145.3 159.3 L145.8 159.8 L146.3 160.3 L146.8 160.8 L147.3 161.2 L147.8 161.6 L148.3 161.8 L148.8 162.0 L149.3 162.2 L149.8 162.4 L150.3 162.6 L150.8 162.8 L151.3 163.0 L151.8 163.2 L152.3 163.3 L152.8 163.5 L153.3 163.6 L153.8 163.7 L154.3 163.9 L154.8 164.0 L155.3 164.2 L155.8 164.3 L156.3 164.4 L156.8 164.5 L157.3 164.4 L157.8 164.4 L158.3 164.3 L158.8 164.3 L159.3 164.2 L159.8 164.2 L160.3 164.2 L160.8 164.1 L161.3 164.1 L161.8 164.0 L162.3 164.0 L162.8 164.0 L163.3 164.0 L163.8 164.0 L164.3 164.0 L164.8 164.0 L165.3 164.0 L165.8 164.0 L166.3 164.0 L166.8 164.0 L167.3 164.0 L167.8 164.0 L168.3 164.0 L168.8 164.0 L169.3 164.0 L169.8 164.1 L170.3 164.2 L170.8 164.3 L171.3 164.3 L171.8 164.4 L172.3 164.5 L172.8 164.6 L173.3 164.6 L173.8 164.7 L174.3 164.8 L174.8 164.9 L175.3 165.0 L175.8 165.1 L176.3 165.4 L176.8 165.8 L177.3 166.1 L177.8 166.4 L178.3 166.7 L178.8 167.3 L179.3 167.8 L179.8 168.3 L180.3 168.8 L180.8 169.2 L181.3 168.7 L181.8 168.2 L182.3 167.7 L182.8 167.2 L183.3 166.7 L183.8 166.2 L184.3 165.9 L184.8 165.6 L185.3 165.4 L185.8 165.1 L186.3 164.9 L186.8 164.6 L187.3 164.4 L187.8 164.1 L188.3 164.2 L188.8 164.3 L189.3 164.3 L189.8 164.4 L190.3 164.5 L190.8 164.6 L191.3 164.7 L191.8 164.7 L192.3 164.5 L192.8 164.3 L193.3 164.2 L193.8 164.0 L194.3 163.9 L194.8 163.7 L195.3 163.6 L195.8 163.7 L196.3 163.9 L196.8 164.2 L197.3 164.4 L197.8 164.7 L198.3 164.9 L198.8 165.2 L199.3 165.4 L199.8 165.7 L200.3 165.9 L200.8 166.1 L201.3 166.2 L201.8 166.4 L202.3 166.5 L202.8 166.6 L203.3 166.8 L203.8 166.9 L204.3 167.0 L204.8 167.1 L205.3 167.1 L205.8 167.2 L206.3 167.2 L206.8 167.3 L207.3 167.3 L207.8 167.1 L208.3 166.7 L208.8 166.3 L209.3 165.9 L209.8 165.5 L210.3 165.1 L210.8 164.7 L211.3 164.6 L211.8 164.4 L212.3 164.3 L212.8 164.1 L213.3 163.9 L213.8 163.8 L214.3 163.6 L214.8 163.6 L215.3 163.7 L215.8 163.8 L216.3 163.8 L216.8 163.9 L217.3 164.0 L217.8 164.1 L218.3 164.2 L218.8 164.6 L219.3 165.2 L219.8 165.8 L220.3 166.4 L220.8 167.0 L221.3 167.5 L221.8 168.1 L222.3 168.6 L222.8 168.7 L223.3 168.8 L223.8 168.9 L224.3 169.0 L224.8 169.1 L225.3 169.2 L225.8 169.3 L226.3 169.1 L226.8 168.8 L227.3 168.4 L227.8 168.1 L228.3 167.9 L228.8 167.8 L229.3 167.7 L229.8 167.6 L230.3 167.5 L230.8 167.4 L231.3 167.3 L231.8 167.2 L232.3 167.1 L232.8 167.0 L233.3 166.9 L233.8 166.8 L234.3 166.7 L234.8 166.7 L235.3 166.6 L235.8 166.6 L236.3 166.5 L236.8 166.5 L237.3 166.4 L237.8 166.4 L238.3 166.3 L238.8 166.3 L239.3 166.2 L239.8 166.2 L240.3 166.2 L240.8 166.1 L241.3 166.2 L241.8 166.2 L242.3 166.3 L242.8 166.3 L243.3 166.4 L243.8 166.4 L244.3 166.5 L244.8 166.5 L245.3 166.6 L245.8 166.6 L246.3 166.7 L246.8 166.7 L247.3 166.8 L247.8 166.9 L248.3 167.1 L248.8 167.2 L249.3 167.4 L249.8 167.6 L250.3 167.7 L250.8 167.9 L251.3 168.0 L251.8 168.2 L252.3 168.3 L252.8 168.5 L253.3 168.6 L253.8 168.6 L254.3 168.6 L254.8 168.6 L255.3 168.6 L255.8 168.7 L256.3 168.7 L256.8 168.7 L257.3 168.7 L257.8 168.7 L258.3 168.7 L258.8 168.7 L259.3 168.7 L259.8 168.7 L260.3 168.7 L260.8 168.8 L261.3 168.8 L261.8 168.9 L262.3 168.9 L262.8 169.0 L263.3 169.0 L263.8 169.1 L264.3 169.2 L264.8 169.2 L265.3 169.3 L265.8 169.3 L266.3 169.3 L266.8 169.0 L267.3 168.6 L267.8 168.3 L268.3 167.9 L268.8 167.6 L269.3 167.3 L269.8 166.9 L270.3 166.7 L270.8 166.5 L271.3 166.4 L271.8 166.2 L272.3 166.4 L272.8 166.7 L273.3 167.0 L273.8 167.4 L274.3 167.7 L274.8 168.0 L275.3 168.4 L275.8 168.7 L276.3 169.0 L276.8 169.4 L277.3 169.7 L277.8 170.1 L278.3 170.4 L278.8 170.8 L279.3 171.1 L279.8 171.3 L280.3 171.4 L280.8 171.4 L281.3 171.5 L281.8 171.6 L282.3 171.6 L282.8 171.7 L283.3 171.7 L283.8 171.8 L284.3 171.9 L284.8 171.9 L285.3 172.0 L285.8 172.0 L286.3 172.1 L286.8 172.1 L287.3 172.2 L287.8 172.3 L288.3 172.3 L288.8 172.4 L289.3 172.4 L289.8 172.5 L290.3 172.5 L290.8 172.6 L291.3 172.6 L291.8 172.7 L292.3 172.7 L292.8 172.8 L293.3 172.8 L293.8 172.9 L294.3 172.9 L294.8 173.0 L295.3 173.0 L295.8 173.1 L296.3 173.1 L296.8 173.2 L297.3 173.2 L297.8 173.1 L298.3 172.9 L298.8 172.7 L299.3 172.5 L299.8 172.3 L300.3 172.2 L300.8 172.0 L301.3 171.8 L301.8 171.6 L302.3 171.4 L302.8 171.0 L303.3 170.6 L303.8 170.3 L304.3 170.4 L304.8 170.5 L305.3 170.6 L305.8 170.6 L306.3 170.7 L306.8 170.8 L307.3 170.9 L307.8 171.0 L308.3 171.1 L308.8 171.2 L309.3 171.4 L309.8 171.7 L310.3 171.9 L310.8 172.1 L311.3 172.3 L311.8 172.6 L312.3 172.8 L312.8 172.7 L313.3 172.4 L313.8 172.1 L314.3 171.8 L314.8 171.5 L315.3 171.3 L315.8 171.0 L316.3 170.7 L316.8 170.4 L317.3 170.5 L317.8 170.8 L318.3 171.1 L318.8 171.4 L319.3 171.7 L319.8 172.1 L320.3 172.6 L320.8 173.1 L321.3 173.6 L321.8 174.1 L322.3 174.4 L322.8 174.6 L323.3 174.7 L323.8 174.8 L324.3 174.9 L324.8 174.9 L325.3 174.6 L325.8 174.3 L326.7 173.7 L326.7 179.1 L325.8 179.7 L325.3 180.0 L324.8 180.3 L324.3 180.3 L323.8 180.2 L323.3 180.1 L322.8 180.0 L322.3 179.9 L321.8 179.5 L321.3 179.0 L320.8 178.5 L320.3 178.0 L319.8 177.5 L319.3 177.1 L318.8 176.8 L318.3 176.5 L317.8 176.2 L317.3 175.9 L316.8 175.8 L316.3 176.1 L315.8 176.4 L315.3 176.7 L314.8 177.0 L314.3 177.3 L313.8 177.6 L313.3 177.9 L312.8 178.2 L312.3 178.2 L311.8 178.0 L311.3 177.8 L310.8 177.6 L310.3 177.4 L309.8 177.1 L309.3 176.9 L308.8 176.7 L308.3 176.6 L307.8 176.5 L307.3 176.4 L306.8 176.3 L306.3 176.2 L305.8 176.1 L305.3 176.0 L304.8 176.0 L304.3 175.9 L303.8 175.8 L303.3 176.0 L302.8 176.6 L302.3 176.9 L301.8 177.1 L301.3 177.3 L300.8 177.5 L300.3 177.7 L299.8 177.9 L299.3 178.1 L298.8 178.2 L298.3 178.4 L297.8 178.6 L297.3 178.8 L296.8 178.7 L296.3 178.7 L295.8 178.6 L295.3 178.6 L294.8 178.5 L294.3 178.5 L293.8 178.4 L293.3 178.4 L292.8 178.3 L292.3 178.3 L291.8 178.2 L291.3 178.2 L290.8 178.1 L290.3 178.1 L289.8 178.0 L289.3 178.0 L288.8 177.9 L288.3 177.9 L287.8 177.8 L287.3 177.8 L286.8 177.7 L286.3 177.7 L285.8 177.6 L285.3 177.6 L284.8 177.5 L284.3 177.4 L283.8 177.4 L283.3 177.3 L282.8 177.3 L282.3 177.2 L281.8 177.2 L281.3 177.1 L280.8 177.0 L280.3 177.0 L279.8 176.9 L279.3 176.7 L278.8 176.4 L278.3 176.0 L277.8 175.7 L277.3 175.3 L276.8 175.0 L276.3 174.6 L275.8 174.3 L275.3 174.0 L274.8 173.7 L274.3 173.3 L273.8 173.0 L273.3 172.7 L272.8 172.3 L272.3 172.0 L271.8 171.9 L271.3 172.0 L270.8 172.2 L270.3 172.3 L269.8 172.6 L269.3 172.9 L268.8 173.2 L268.3 173.6 L267.8 173.9 L267.3 174.3 L266.8 174.6 L266.3 175.0 L265.8 175.0 L265.3 174.9 L264.8 174.9 L264.3 174.8 L263.8 174.8 L263.3 174.7 L262.8 174.7 L262.3 174.6 L261.8 174.6 L261.3 174.5 L260.8 174.4 L260.3 174.4 L259.8 174.3 L259.3 174.3 L258.8 174.3 L258.3 174.3 L257.8 174.3 L257.3 174.3 L256.8 174.3 L256.3 174.3 L255.8 174.3 L255.3 174.4 L254.8 174.4 L254.3 174.4 L253.8 174.4 L253.3 174.3 L252.8 174.2 L252.3 174.0 L251.8 173.9 L251.3 173.7 L250.8 173.6 L250.3 173.4 L249.8 173.3 L249.3 173.1 L248.8 173.0 L248.3 172.8 L247.8 172.7 L247.3 172.5 L246.8 172.4 L246.3 172.4 L245.8 172.3 L245.3 172.3 L244.8 172.3 L244.3 172.2 L243.8 172.2 L243.3 172.1 L242.8 172.1 L242.3 172.0 L241.8 172.0 L241.3 171.9 L240.8 171.9 L240.3 171.9 L239.8 172.0 L239.3 172.0 L238.8 172.1 L238.3 172.1 L237.8 172.2 L237.3 172.2 L236.8 172.3 L236.3 172.3 L235.8 172.4 L235.3 172.4 L234.8 172.5 L234.3 172.5 L233.8 172.6 L233.3 172.7 L232.8 172.8 L232.3 172.9 L231.8 173.0 L231.3 173.1 L230.8 173.2 L230.3 173.3 L229.8 173.4 L229.3 173.5 L228.8 173.6 L228.3 173.7 L227.8 173.9 L227.3 174.3 L226.8 174.6 L226.3 174.9 L225.8 175.1 L225.3 175.0 L224.8 174.9 L224.3 174.8 L223.8 174.7 L223.3 174.6 L222.8 174.5 L222.3 174.4 L221.8 174.0 L221.3 173.4 L220.8 172.8 L220.3 172.2 L219.8 171.6 L219.3 171.1 L218.8 170.5 L218.3 170.0 L217.8 169.9 L217.3 169.9 L216.8 169.8 L216.3 169.7 L215.8 169.6 L215.3 169.6 L214.8 169.5 L214.3 169.5 L213.8 169.7 L213.3 169.8 L212.8 170.0 L212.3 170.1 L211.8 170.3 L211.3 170.5 L210.8 170.6 L210.3 171.0 L209.8 171.4 L209.3 171.8 L208.8 172.2 L208.3 172.6 L207.8 173.0 L207.3 173.2 L206.8 173.2 L206.3 173.1 L205.8 173.1 L205.3 173.0 L204.8 173.0 L204.3 172.9 L203.8 172.8 L203.3 172.7 L202.8 172.6 L202.3 172.4 L201.8 172.3 L201.3 172.2 L200.8 172.0 L200.3 171.9 L199.8 171.6 L199.3 171.4 L198.8 171.1 L198.3 170.9 L197.8 170.6 L197.3 170.4 L196.8 170.1 L196.3 169.9 L195.8 169.6 L195.3 169.5 L194.8 169.7 L194.3 169.8 L193.8 170.0 L193.3 170.2 L192.8 170.3 L192.3 170.5 L191.8 170.6 L191.3 170.6 L190.8 170.6 L190.3 170.5 L189.8 170.4 L189.3 170.3 L188.8 170.2 L188.3 170.2 L187.8 170.1 L187.3 170.3 L186.8 170.6 L186.3 170.8 L185.8 171.1 L185.3 171.3 L184.8 171.6 L184.3 171.8 L183.8 172.2 L183.3 172.7 L182.8 173.2 L182.3 173.7 L181.8 174.2 L181.3 174.7 L180.8 175.2 L180.3 174.9 L179.8 174.4 L179.3 173.9 L178.8 173.4 L178.3 172.9 L177.8 172.5 L177.3 172.2 L176.8 171.9 L176.3 171.6 L175.8 171.3 L175.3 171.2 L174.8 171.1 L174.3 171.0 L173.8 171.0 L173.3 170.9 L172.8 170.8 L172.3 170.8 L171.8 170.7 L171.3 170.6 L170.8 170.6 L170.3 170.5 L169.8 170.4 L169.3 170.4 L168.8 170.4 L168.3 170.4 L167.8 170.4 L167.3 170.4 L166.8 170.4 L166.3 170.4 L165.8 170.4 L165.3 170.4 L164.8 170.4 L164.3 170.4 L163.8 170.4 L163.3 170.4 L162.8 170.5 L162.3 170.5 L161.8 170.6 L161.3 170.6 L160.8 170.7 L160.3 170.7 L159.8 170.8 L159.3 170.8 L158.8 170.9 L158.3 170.9 L157.8 171.0 L157.3 171.0 L156.8 171.1 L156.3 171.1 L155.8 170.9 L155.3 170.8 L154.8 170.7 L154.3 170.6 L153.8 170.5 L153.3 170.3 L152.8 170.2 L152.3 170.1 L151.8 170.0 L151.3 169.8 L150.8 169.6 L150.3 169.4 L149.8 169.3 L149.3 169.1 L148.8 168.9 L148.3 168.7 L147.8 168.5 L147.3 168.2 L146.8 167.7 L146.3 167.3 L145.8 166.8 L145.3 166.4 L144.8 165.9 L144.3 165.7 L143.8 165.7 L143.3 165.9 L142.8 166.2 L142.3 166.4 L141.8 166.7 L141.3 167.0 L140.8 167.3 L140.3 167.5 L139.8 167.8 L139.3 167.9 L138.8 168.1 L138.3 168.2 L137.8 168.4 L137.3 168.3 L136.8 168.0 L136.3 167.7 L135.8 167.4 L135.3 167.1 L134.8 166.8 L134.3 166.5 L133.8 166.2 L133.3 165.9 L132.8 165.6 L132.3 165.3 L131.8 164.9 L131.3 164.6 L130.8 164.3 L130.3 164.2 L129.8 164.0 L129.3 163.9 L128.8 163.8 L128.3 163.6 L127.8 163.5 L127.3 163.3 L126.8 163.2 L126.3 163.0 L125.8 162.9 L125.3 162.8 L124.8 162.6 L124.3 162.5 L123.8 162.3 L123.3 162.2 L122.8 162.0 L122.3 161.9 L121.8 161.8 L121.3 161.6 L120.8 161.5 L120.3 161.3 L119.8 161.2 L119.3 161.1 L118.8 160.9 L118.3 160.8 L117.8 160.6 L117.3 160.5 L116.8 160.3 L116.3 160.2 L115.8 160.1 L115.3 159.9 L114.8 159.8 L114.3 159.6 L113.8 159.5 L113.3 159.4 L112.8 159.2 L112.3 159.0 L111.8 158.8 L111.3 158.6 L110.8 158.4 L110.3 158.2 L109.8 158.0 L109.3 157.8 L108.8 157.6 L108.3 157.4 L107.8 157.2 L107.3 157.0 L106.8 156.8 L106.3 156.6 L105.8 156.3 L105.3 156.1 L104.8 155.9 L104.3 155.7 L103.8 155.4 L103.3 155.1 L102.8 154.9 L102.3 154.6 L101.8 154.3 L101.3 154.1 L100.8 153.8 L100.3 153.5 L99.8 153.0 L99.3 152.6 L98.8 152.1 L98.3 151.7 L97.8 151.2 L97.3 150.8 L96.8 150.3 L96.3 149.9 L95.8 149.5 L95.3 149.2 L94.8 148.9 L94.3 148.6 L93.8 148.3 L93.3 148.1 L92.8 147.9 L92.3 147.6 L91.8 147.4 L91.3 147.2 L90.8 146.9 L90.3 146.8 L89.8 146.6 L89.3 146.5 L88.8 146.4 L88.3 146.3 L87.8 146.1 L87.3 146.0 L86.8 145.9 L86.3 145.8 L85.8 145.7 L85.3 145.7 L84.8 145.6 L84.3 145.5 L83.8 145.5 L83.3 145.4 L82.8 145.2 L82.3 144.7 L81.8 144.2 L81.3 143.7 L80.8 143.2 L80.3 142.6 L79.8 141.8 L79.3 140.9 L78.8 140.1 L78.3 139.2 L77.8 138.4 L77.3 137.9 L76.8 137.4 L76.3 136.9 L75.8 136.4 L75.3 135.9 L74.8 135.4 L74.3 134.9 L73.8 134.4 L73.3 134.0 L72.8 133.5 L72.3 133.0 L71.8 132.6 L71.3 132.1 L70.8 131.6 L70.3 131.0 L69.8 130.5 L69.3 130.0 L68.8 129.5 L68.3 128.9 L67.8 128.4 L67.3 127.8 L66.8 127.1 L66.3 126.5 L65.8 125.8 L65.3 125.2 L64.8 124.6 L64.3 123.9 L63.8 123.1 L63.3 122.3 L62.8 121.5 L62.3 120.6 L61.8 119.4 L61.3 118.2 L60.8 117.0 L60.3 115.8 L59.8 114.8 L59.3 113.9 L58.8 112.9 L58.3 111.8 L57.8 110.4 L57.3 108.8 L56.8 107.2 L56.3 105.6 L55.8 104.0 L55.3 102.8 L54.8 101.6 L54.3 100.4 L53.8 99.6 L53.3 98.9 L52.8 98.3 L52.3 97.6 L51.8 96.9 L51.3 96.3 L50.8 95.6 L50.3 94.9 L49.8 94.1 L49.3 92.4 L48.8 90.9 L48.3 89.9 L47.8 88.9 L47.3 87.9 L46.8 87.2 L46.3 86.4 L45.8 85.7 L45.3 85.0 L44.8 84.3 L44.3 84.0 L43.8 83.7 L43.3 83.5 L42.8 83.2 L42.3 83.0 L41.8 82.7 L41.3 82.5 L40.8 82.2 L40.3 82.0 Z" fill="#a52a2a" fill-opacity="0.42" stroke="none"/>
<path d="M40.30 77.20 L44.70 79.50 L47.30 83.30 L49.00 86.80 L49.90 89.90 L54.20 95.10 L55.90 99.00 L57.70 104.70 L58.50 106.90 L60.30 110.70 L62.50 116.30 L64.60 120.00 L67.70 124.00 L71.20 127.70 L74.00 130.30 L77.80 134.10 L80.40 138.50 L82.90 141.10 L86.70 141.70 L90.50 142.70 L94.40 144.60 L96.00 145.60 L100.40 149.50 L104.70 151.70 L113.30 155.10 L122.00 157.70 L130.70 160.30 L137.60 164.70 L140.00 164.00 L143.70 162.10 L144.50 162.10 L147.60 165.00 L151.50 166.50 L156.50 167.80 L162.90 167.20 L169.30 167.20 L175.60 168.10 L178.20 169.70 L180.70 172.30 L184.00 169.00 L187.80 167.10 L191.60 167.70 L195.50 166.50 L200.50 169.00 L204.40 170.00 L207.50 170.30 L210.70 167.70 L214.50 166.50 L218.40 167.10 L222.20 171.50 L226.00 172.20 L228.00 170.90 L234.40 169.60 L240.70 169.00 L247.10 169.60 L253.40 171.50 L259.80 171.50 L266.20 172.20 L270.00 169.60 L272.00 169.00 L275.80 171.50 L279.60 174.10 L284.70 174.70 L291.10 175.40 L297.40 176.00 L302.50 174.10 L303.60 173.00 L308.70 173.90 L312.50 175.60 L317.00 173.00 L319.50 174.50 L322.10 177.10 L324.60 177.70 L326.70 176.40" fill="none" stroke="#a52a2a" stroke-width="1.55" stroke-linejoin="round"/>
<path d="M40.3 20.1 L40.8 20.1 L41.3 20.1 L41.8 20.1 L42.3 20.1 L42.8 20.2 L43.3 20.5 L43.8 20.9 L44.3 21.2 L44.8 22.0 L45.3 22.8 L45.8 23.8 L46.3 24.8 L46.8 26.0 L47.3 27.4 L47.8 28.8 L48.3 30.2 L48.8 31.6 L49.3 32.9 L49.8 34.1 L50.3 35.3 L50.8 36.5 L51.3 37.9 L51.8 39.3 L52.3 40.9 L52.8 42.9 L53.3 44.8 L53.8 46.7 L54.3 48.6 L54.8 50.3 L55.3 52.1 L55.8 54.1 L56.3 56.0 L56.8 58.5 L57.3 61.1 L57.8 63.0 L58.3 64.6 L58.8 65.7 L59.3 66.8 L59.8 67.9 L60.3 69.1 L60.8 70.4 L61.3 71.7 L61.8 73.0 L62.3 74.3 L62.8 75.6 L63.3 77.4 L63.8 79.2 L64.3 79.9 L64.8 80.6 L65.3 81.3 L65.8 82.1 L66.3 82.9 L66.8 83.7 L67.3 85.7 L67.8 88.0 L68.3 89.8 L68.8 90.7 L69.3 91.7 L69.8 92.6 L70.3 93.6 L70.8 94.5 L71.3 95.4 L71.8 96.3 L72.3 97.2 L72.8 98.0 L73.3 98.9 L73.8 99.7 L74.3 100.5 L74.8 101.3 L75.3 102.1 L75.8 102.8 L76.3 103.5 L76.8 104.2 L77.3 105.2 L77.8 106.1 L78.3 107.1 L78.8 108.0 L79.3 109.0 L79.8 109.9 L80.3 110.8 L80.8 111.6 L81.3 112.5 L81.8 113.3 L82.3 114.1 L82.8 114.9 L83.3 115.7 L83.8 116.4 L84.3 117.2 L84.8 118.0 L85.3 118.5 L85.8 118.9 L86.3 119.4 L86.8 119.8 L87.3 120.3 L87.8 120.8 L88.3 121.0 L88.8 121.2 L89.3 121.4 L89.8 121.6 L90.3 121.8 L90.8 121.9 L91.3 122.1 L91.8 122.4 L92.3 122.9 L92.8 123.3 L93.3 123.8 L93.8 124.3 L94.3 124.7 L94.8 125.2 L95.3 125.7 L95.8 126.1 L96.3 126.6 L96.8 127.0 L97.3 127.5 L97.8 127.9 L98.3 128.4 L98.8 128.9 L99.3 129.4 L99.8 129.9 L100.3 130.4 L100.8 130.9 L101.3 131.3 L101.8 131.6 L102.3 131.9 L102.8 132.2 L103.3 132.6 L103.8 132.9 L104.3 133.2 L104.8 133.5 L105.3 133.8 L105.8 134.1 L106.3 134.3 L106.8 134.5 L107.3 134.7 L107.8 134.9 L108.3 135.1 L108.8 135.3 L109.3 135.5 L109.8 135.8 L110.3 136.1 L110.8 136.4 L111.3 136.7 L111.8 137.0 L112.3 137.3 L112.8 137.6 L113.3 137.9 L113.8 138.2 L114.3 138.5 L114.8 138.8 L115.3 139.1 L115.8 139.4 L116.3 139.8 L116.8 140.2 L117.3 140.7 L117.8 141.1 L118.3 141.5 L118.8 142.2 L119.3 143.1 L119.8 144.0 L120.3 144.9 L120.8 145.1 L121.3 145.4 L121.8 145.6 L122.3 145.8 L122.8 146.0 L123.3 146.3 L123.8 146.5 L124.3 146.6 L124.8 146.6 L125.3 146.7 L125.8 146.8 L126.3 146.8 L126.8 146.9 L127.3 147.0 L127.8 147.3 L128.3 147.6 L128.8 147.9 L129.3 148.3 L129.8 148.6 L130.3 148.9 L130.8 149.2 L131.3 149.5 L131.8 149.8 L132.3 150.1 L132.8 150.4 L133.3 150.7 L133.8 151.0 L134.3 151.3 L134.8 151.6 L135.3 151.9 L135.8 152.2 L136.3 152.2 L136.8 152.0 L137.3 151.7 L137.8 151.5 L138.3 151.2 L138.8 151.0 L139.3 150.7 L139.8 150.5 L140.3 150.4 L140.8 150.2 L141.3 150.0 L141.8 149.8 L142.3 149.6 L142.8 149.4 L143.3 149.2 L143.8 149.0 L144.3 149.4 L144.8 149.8 L145.3 150.1 L145.8 150.5 L146.3 150.9 L146.8 151.3 L147.3 151.8 L147.8 152.3 L148.3 152.8 L148.8 153.4 L149.3 153.9 L149.8 154.2 L150.3 154.3 L150.8 154.4 L151.3 154.6 L151.8 154.7 L152.3 154.8 L152.8 155.0 L153.3 155.1 L153.8 155.5 L154.3 155.9 L154.8 156.4 L155.3 156.8 L155.8 157.3 L156.3 157.8 L156.8 157.9 L157.3 157.9 L157.8 157.9 L158.3 157.9 L158.8 158.0 L159.3 158.0 L159.8 158.0 L160.3 158.0 L160.8 158.0 L161.3 158.0 L161.8 158.0 L162.3 158.0 L162.8 158.0 L163.3 158.0 L163.8 158.0 L164.3 158.0 L164.8 158.0 L165.3 158.1 L165.8 158.1 L166.3 158.2 L166.8 158.2 L167.3 158.2 L167.8 158.3 L168.3 158.4 L168.8 158.4 L169.3 158.5 L169.8 158.6 L170.3 158.7 L170.8 158.8 L171.3 158.9 L171.8 158.9 L172.3 159.0 L172.8 159.2 L173.3 159.3 L173.8 159.5 L174.3 159.7 L174.8 159.8 L175.3 160.0 L175.8 160.2 L176.3 160.4 L176.8 160.6 L177.3 160.8 L177.8 161.0 L178.3 161.2 L178.8 161.4 L179.3 161.6 L179.8 161.8 L180.3 161.9 L180.8 161.9 L181.3 161.9 L181.8 161.9 L182.3 161.9 L182.8 161.9 L183.3 161.9 L183.8 161.8 L184.3 161.7 L184.8 161.7 L185.3 161.6 L185.8 161.5 L186.3 161.5 L186.8 161.4 L187.3 161.3 L187.8 161.2 L188.3 161.3 L188.8 161.5 L189.3 161.6 L189.8 161.7 L190.3 161.8 L190.8 161.9 L191.3 162.0 L191.8 162.0 L192.3 161.9 L192.8 161.8 L193.3 161.7 L193.8 161.5 L194.3 161.4 L194.8 161.3 L195.3 161.2 L195.8 161.3 L196.3 161.6 L196.8 161.8 L197.3 162.1 L197.8 162.4 L198.3 162.7 L198.8 163.0 L199.3 163.2 L199.8 163.5 L200.3 163.8 L200.8 164.0 L201.3 164.1 L201.8 164.3 L202.3 164.4 L202.8 164.5 L203.3 164.7 L203.8 164.8 L204.3 165.0 L204.8 165.0 L205.3 165.1 L205.8 165.1 L206.3 165.2 L206.8 165.3 L207.3 165.3 L207.8 165.1 L208.3 164.7 L208.8 164.3 L209.3 163.9 L209.8 163.5 L210.3 163.1 L210.8 162.8 L211.3 162.6 L211.8 162.5 L212.3 162.3 L212.8 162.2 L213.3 162.0 L213.8 161.9 L214.3 161.7 L214.8 161.7 L215.3 161.8 L215.8 161.9 L216.3 162.0 L216.8 162.0 L217.3 162.1 L217.8 162.2 L218.3 162.3 L218.8 162.8 L219.3 163.4 L219.8 164.0 L220.3 164.6 L220.8 165.1 L221.3 165.7 L221.8 166.3 L222.3 166.8 L222.8 166.9 L223.3 167.0 L223.8 167.1 L224.3 167.2 L224.8 167.3 L225.3 167.4 L225.8 167.5 L226.3 167.4 L226.8 167.0 L227.3 166.7 L227.8 166.4 L228.3 166.2 L228.8 166.1 L229.3 166.0 L229.8 165.9 L230.3 165.8 L230.8 165.8 L231.3 165.7 L231.8 165.6 L232.3 165.5 L232.8 165.4 L233.3 165.3 L233.8 165.2 L234.3 165.1 L234.8 165.0 L235.3 165.0 L235.8 164.9 L236.3 164.9 L236.8 164.8 L237.3 164.8 L237.8 164.8 L238.3 164.7 L238.8 164.7 L239.3 164.6 L239.8 164.6 L240.3 164.5 L240.8 164.5 L241.3 164.6 L241.8 164.6 L242.3 164.7 L242.8 164.7 L243.3 164.8 L243.8 164.8 L244.3 164.9 L244.8 164.9 L245.3 165.0 L245.8 165.0 L246.3 165.1 L246.8 165.1 L247.3 165.2 L247.8 165.4 L248.3 165.5 L248.8 165.7 L249.3 165.9 L249.8 166.0 L250.3 166.2 L250.8 166.3 L251.3 166.5 L251.8 166.6 L252.3 166.8 L252.8 166.9 L253.3 167.1 L253.8 167.1 L254.3 167.1 L254.8 167.1 L255.3 167.1 L255.8 167.2 L256.3 167.2 L256.8 167.2 L257.3 167.2 L257.8 167.2 L258.3 167.2 L258.8 167.2 L259.3 167.2 L259.8 167.2 L260.3 167.2 L260.8 167.3 L261.3 167.4 L261.8 167.4 L262.3 167.5 L262.8 167.5 L263.3 167.6 L263.8 167.7 L264.3 167.7 L264.8 167.8 L265.3 167.8 L265.8 167.9 L266.3 167.9 L266.8 167.5 L267.3 167.2 L267.8 166.9 L268.3 166.5 L268.8 166.2 L269.3 165.9 L269.8 165.5 L270.3 165.3 L270.8 165.1 L271.3 165.0 L271.8 164.8 L272.3 165.0 L272.8 165.3 L273.3 165.6 L273.8 166.0 L274.3 166.3 L274.8 166.6 L275.3 167.0 L275.8 167.3 L276.3 167.6 L276.8 168.0 L277.3 168.3 L277.8 168.7 L278.3 169.0 L278.8 169.4 L279.3 169.7 L279.8 169.9 L280.3 170.0 L280.8 170.0 L281.3 170.1 L281.8 170.2 L282.3 170.2 L282.8 170.3 L283.3 170.3 L283.8 170.4 L284.3 170.5 L284.8 170.5 L285.3 170.6 L285.8 170.6 L286.3 170.7 L286.8 170.7 L287.3 170.8 L287.8 170.9 L288.3 170.9 L288.8 171.0 L289.3 171.0 L289.8 171.1 L290.3 171.1 L290.8 171.2 L291.3 171.2 L291.8 171.3 L292.3 171.3 L292.8 171.4 L293.3 171.4 L293.8 171.5 L294.3 171.5 L294.8 171.6 L295.3 171.6 L295.8 171.7 L296.3 171.7 L296.8 171.8 L297.3 171.8 L297.8 171.7 L298.3 171.5 L298.8 171.3 L299.3 171.1 L299.8 170.9 L300.3 170.8 L300.8 170.6 L301.3 170.4 L301.8 170.2 L302.3 170.0 L302.8 169.7 L303.3 169.2 L303.8 168.9 L304.3 169.0 L304.8 169.1 L305.3 169.2 L305.8 169.2 L306.3 169.3 L306.8 169.4 L307.3 169.5 L307.8 169.6 L308.3 169.7 L308.8 169.8 L309.3 170.0 L309.8 170.3 L310.3 170.5 L310.8 170.7 L311.3 170.9 L311.8 171.2 L312.3 171.4 L312.8 171.3 L313.3 171.0 L313.8 170.7 L314.3 170.4 L314.8 170.1 L315.3 169.9 L315.8 169.6 L316.3 169.3 L316.8 169.0 L317.3 169.1 L317.8 169.4 L318.3 169.7 L318.8 170.0 L319.3 170.3 L319.8 170.7 L320.3 171.2 L320.8 171.7 L321.3 172.2 L321.8 172.7 L322.3 173.0 L322.8 173.2 L323.3 173.3 L323.8 173.4 L324.3 173.5 L324.8 173.5 L325.3 173.2 L325.8 172.9 L326.7 172.3 L326.7 180.5 L325.8 181.1 L325.3 181.4 L324.8 181.7 L324.3 181.7 L323.8 181.6 L323.3 181.5 L322.8 181.4 L322.3 181.3 L321.8 180.9 L321.3 180.4 L320.8 179.9 L320.3 179.4 L319.8 178.9 L319.3 178.5 L318.8 178.2 L318.3 177.9 L317.8 177.6 L317.3 177.3 L316.8 177.2 L316.3 177.5 L315.8 177.8 L315.3 178.1 L314.8 178.4 L314.3 178.7 L313.8 179.0 L313.3 179.3 L312.8 179.6 L312.3 179.6 L311.8 179.4 L311.3 179.2 L310.8 179.0 L310.3 178.8 L309.8 178.5 L309.3 178.3 L308.8 178.1 L308.3 178.0 L307.8 177.9 L307.3 177.8 L306.8 177.7 L306.3 177.6 L305.8 177.5 L305.3 177.4 L304.8 177.4 L304.3 177.3 L303.8 177.2 L303.3 177.4 L302.8 177.9 L302.3 178.3 L301.8 178.5 L301.3 178.7 L300.8 178.9 L300.3 179.1 L299.8 179.3 L299.3 179.4 L298.8 179.6 L298.3 179.8 L297.8 180.0 L297.3 180.2 L296.8 180.1 L296.3 180.1 L295.8 180.0 L295.3 180.0 L294.8 179.9 L294.3 179.9 L293.8 179.8 L293.3 179.8 L292.8 179.7 L292.3 179.7 L291.8 179.6 L291.3 179.6 L290.8 179.5 L290.3 179.5 L289.8 179.4 L289.3 179.4 L288.8 179.3 L288.3 179.3 L287.8 179.2 L287.3 179.2 L286.8 179.1 L286.3 179.1 L285.8 179.0 L285.3 179.0 L284.8 178.9 L284.3 178.8 L283.8 178.8 L283.3 178.7 L282.8 178.7 L282.3 178.6 L281.8 178.6 L281.3 178.5 L280.8 178.4 L280.3 178.4 L279.8 178.3 L279.3 178.1 L278.8 177.8 L278.3 177.4 L277.8 177.1 L277.3 176.7 L276.8 176.4 L276.3 176.0 L275.8 175.7 L275.3 175.4 L274.8 175.0 L274.3 174.7 L273.8 174.4 L273.3 174.1 L272.8 173.7 L272.3 173.4 L271.8 173.3 L271.3 173.4 L270.8 173.6 L270.3 173.7 L269.8 174.0 L269.3 174.3 L268.8 174.6 L268.3 175.0 L267.8 175.3 L267.3 175.7 L266.8 176.0 L266.3 176.3 L265.8 176.4 L265.3 176.3 L264.8 176.2 L264.3 176.2 L263.8 176.1 L263.3 176.1 L262.8 176.0 L262.3 176.0 L261.8 175.9 L261.3 175.8 L260.8 175.8 L260.3 175.7 L259.8 175.7 L259.3 175.7 L258.8 175.7 L258.3 175.7 L257.8 175.7 L257.3 175.7 L256.8 175.7 L256.3 175.6 L255.8 175.6 L255.3 175.6 L254.8 175.6 L254.3 175.6 L253.8 175.6 L253.3 175.6 L252.8 175.4 L252.3 175.3 L251.8 175.1 L251.3 175.0 L250.8 174.8 L250.3 174.7 L249.8 174.5 L249.3 174.4 L248.8 174.2 L248.3 174.1 L247.8 173.9 L247.3 173.8 L246.8 173.7 L246.3 173.6 L245.8 173.6 L245.3 173.5 L244.8 173.5 L244.3 173.4 L243.8 173.4 L243.3 173.3 L242.8 173.3 L242.3 173.2 L241.8 173.2 L241.3 173.1 L240.8 173.1 L240.3 173.1 L239.8 173.1 L239.3 173.2 L238.8 173.2 L238.3 173.3 L237.8 173.3 L237.3 173.4 L236.8 173.4 L236.3 173.5 L235.8 173.5 L235.3 173.6 L234.8 173.6 L234.3 173.7 L233.8 173.8 L233.3 173.9 L232.8 174.0 L232.3 174.1 L231.8 174.2 L231.3 174.3 L230.8 174.3 L230.3 174.4 L229.8 174.5 L229.3 174.6 L228.8 174.8 L228.3 174.9 L227.8 175.0 L227.3 175.4 L226.8 175.7 L226.3 176.0 L225.8 176.2 L225.3 176.1 L224.8 176.0 L224.3 175.9 L223.8 175.8 L223.3 175.7 L222.8 175.6 L222.3 175.5 L221.8 175.0 L221.3 174.4 L220.8 173.9 L220.3 173.3 L219.8 172.7 L219.3 172.1 L218.8 171.5 L218.3 171.1 L217.8 171.0 L217.3 170.9 L216.8 170.8 L216.3 170.7 L215.8 170.7 L215.3 170.6 L214.8 170.5 L214.3 170.5 L213.8 170.7 L213.3 170.8 L212.8 171.0 L212.3 171.1 L211.8 171.3 L211.3 171.5 L210.8 171.6 L210.3 172.0 L209.8 172.4 L209.3 172.8 L208.8 173.2 L208.3 173.6 L207.8 174.0 L207.3 174.2 L206.8 174.2 L206.3 174.1 L205.8 174.1 L205.3 174.0 L204.8 174.0 L204.3 173.9 L203.8 173.8 L203.3 173.6 L202.8 173.5 L202.3 173.4 L201.8 173.2 L201.3 173.1 L200.8 173.0 L200.3 172.8 L199.8 172.5 L199.3 172.2 L198.8 172.0 L198.3 171.7 L197.8 171.4 L197.3 171.2 L196.8 170.9 L196.3 170.6 L195.8 170.3 L195.3 170.2 L194.8 170.4 L194.3 170.5 L193.8 170.6 L193.3 170.7 L192.8 170.9 L192.3 171.0 L191.8 171.1 L191.3 171.1 L190.8 171.0 L190.3 170.9 L189.8 170.8 L189.3 170.7 L188.8 170.6 L188.3 170.5 L187.8 170.4 L187.3 170.5 L186.8 170.5 L186.3 170.6 L185.8 170.7 L185.3 170.8 L184.8 170.9 L184.3 170.9 L183.8 171.0 L183.3 171.1 L182.8 171.1 L182.3 171.1 L181.8 171.1 L181.3 171.1 L180.8 171.1 L180.3 171.1 L179.8 171.0 L179.3 170.8 L178.8 170.6 L178.3 170.4 L177.8 170.2 L177.3 170.0 L176.8 169.8 L176.3 169.6 L175.8 169.5 L175.3 169.3 L174.8 169.2 L174.3 169.0 L173.8 168.8 L173.3 168.7 L172.8 168.5 L172.3 168.4 L171.8 168.3 L171.3 168.2 L170.8 168.1 L170.3 168.0 L169.8 168.0 L169.3 167.9 L168.8 167.8 L168.3 167.7 L167.8 167.7 L167.3 167.6 L166.8 167.6 L166.3 167.6 L165.8 167.5 L165.3 167.5 L164.8 167.5 L164.3 167.4 L163.8 167.4 L163.3 167.4 L162.8 167.4 L162.3 167.4 L161.8 167.4 L161.3 167.4 L160.8 167.4 L160.3 167.4 L159.8 167.4 L159.3 167.4 L158.8 167.4 L158.3 167.5 L157.8 167.5 L157.3 167.5 L156.8 167.5 L156.3 167.3 L155.8 166.8 L155.3 166.4 L154.8 165.9 L154.3 165.5 L153.8 165.0 L153.3 164.7 L152.8 164.5 L152.3 164.4 L151.8 164.3 L151.3 164.2 L150.8 164.0 L150.3 163.9 L149.8 163.8 L149.3 163.5 L148.8 163.0 L148.3 162.5 L147.8 162.0 L147.3 161.4 L146.8 160.9 L146.3 160.5 L145.8 160.2 L145.3 159.8 L144.8 159.5 L144.3 159.1 L143.8 158.8 L143.3 159.0 L142.8 159.2 L142.3 159.4 L141.8 159.6 L141.3 159.8 L140.8 160.0 L140.3 160.1 L139.8 160.3 L139.3 160.6 L138.8 160.8 L138.3 161.1 L137.8 161.3 L137.3 161.6 L136.8 161.8 L136.3 162.1 L135.8 162.1 L135.3 161.8 L134.8 161.5 L134.3 161.3 L133.8 161.0 L133.3 160.7 L132.8 160.4 L132.3 160.1 L131.8 159.8 L131.3 159.5 L130.8 159.2 L130.3 158.9 L129.8 158.6 L129.3 158.3 L128.8 158.1 L128.3 157.8 L127.8 157.5 L127.3 157.2 L126.8 157.2 L126.3 157.2 L125.8 157.2 L125.3 157.2 L124.8 157.1 L124.3 157.1 L123.8 157.1 L123.3 156.9 L122.8 156.8 L122.3 156.6 L121.8 156.4 L121.3 156.2 L120.8 156.1 L120.3 155.9 L119.8 155.0 L119.3 154.1 L118.8 153.2 L118.3 152.5 L117.8 152.1 L117.3 151.7 L116.8 151.2 L116.3 150.8 L115.8 150.4 L115.3 150.1 L114.8 149.8 L114.3 149.5 L113.8 149.2 L113.3 148.9 L112.8 148.6 L112.3 148.3 L111.8 148.0 L111.3 147.7 L110.8 147.4 L110.3 147.1 L109.8 146.8 L109.3 146.5 L108.8 146.3 L108.3 146.1 L107.8 145.9 L107.3 145.7 L106.8 145.5 L106.3 145.3 L105.8 145.1 L105.3 144.8 L104.8 144.5 L104.3 144.2 L103.8 143.9 L103.3 143.6 L102.8 143.2 L102.3 142.9 L101.8 142.6 L101.3 142.3 L100.8 141.9 L100.3 141.4 L99.8 140.9 L99.3 140.4 L98.8 139.9 L98.3 139.4 L97.8 138.9 L97.3 138.5 L96.8 138.0 L96.3 137.6 L95.8 137.1 L95.3 136.7 L94.8 136.2 L94.3 135.7 L93.8 135.3 L93.3 134.8 L92.8 134.3 L92.3 133.9 L91.8 133.4 L91.3 133.1 L90.8 132.9 L90.3 132.8 L89.8 132.6 L89.3 132.5 L88.8 132.3 L88.3 132.2 L87.8 131.9 L87.3 131.5 L86.8 131.1 L86.3 130.6 L85.8 130.2 L85.3 129.8 L84.8 129.4 L84.3 128.6 L83.8 127.9 L83.3 127.1 L82.8 126.3 L82.3 125.6 L81.8 124.8 L81.3 124.0 L80.8 123.3 L80.3 122.5 L79.8 121.6 L79.3 120.7 L78.8 119.8 L78.3 118.9 L77.8 117.9 L77.3 117.0 L76.8 116.1 L76.3 115.4 L75.8 114.7 L75.3 114.1 L74.8 113.4 L74.3 112.8 L73.8 112.2 L73.3 111.5 L72.8 110.9 L72.3 110.2 L71.8 109.6 L71.3 108.9 L70.8 108.2 L70.3 107.5 L69.8 106.8 L69.3 106.1 L68.8 105.4 L68.3 104.7 L67.8 103.2 L67.3 101.1 L66.8 99.4 L66.3 98.8 L65.8 98.3 L65.3 97.8 L64.8 97.2 L64.3 96.5 L63.8 95.8 L63.3 94.0 L62.8 92.2 L62.3 90.9 L61.8 89.6 L61.3 88.3 L60.8 87.0 L60.3 85.7 L59.8 84.5 L59.3 83.4 L58.8 82.3 L58.3 81.2 L57.8 79.6 L57.3 77.7 L56.8 75.1 L56.3 72.6 L55.8 70.7 L55.3 68.7 L54.8 66.9 L54.3 65.2 L53.8 63.3 L53.3 61.4 L52.8 59.5 L52.3 57.5 L51.8 55.8 L51.3 54.4 L50.8 53.0 L50.3 51.7 L49.8 50.4 L49.3 49.2 L48.8 47.9 L48.3 46.4 L47.8 45.0 L47.3 43.5 L46.8 42.1 L46.3 40.8 L45.8 39.8 L45.3 39.0 L44.8 38.3 L44.3 37.7 L43.8 37.4 L43.3 37.2 L42.8 36.9 L42.3 36.6 L41.8 36.4 L41.3 36.2 L40.8 36.1 L40.3 35.9 Z" fill="#a52a2a" fill-opacity="0.42" stroke="none"/>
<path d="M40.30 28.00 L42.50 28.40 L44.40 29.50 L45.50 31.20 L46.50 33.20 L47.80 36.90 L49.00 40.30 L50.60 44.20 L52.00 48.10 L54.20 56.50 L55.40 60.80 L56.50 65.10 L57.20 69.00 L58.10 72.50 L59.90 76.40 L61.40 80.30 L62.90 84.20 L63.80 87.50 L66.90 91.70 L68.10 96.90 L71.50 102.50 L74.10 106.40 L76.70 110.00 L80.20 116.50 L82.60 120.30 L84.80 123.70 L88.00 126.50 L91.60 127.70 L95.00 130.90 L98.20 133.80 L101.00 136.60 L105.60 139.50 L109.10 140.90 L112.50 142.90 L116.00 145.00 L118.60 147.30 L120.30 150.40 L123.80 151.80 L127.30 152.10 L131.60 154.70 L136.00 157.30 L139.40 155.60 L143.80 153.90 L146.70 156.00 L149.50 158.90 L153.40 159.90 L156.50 162.70 L160.40 162.70 L164.20 162.70 L168.00 163.00 L172.40 163.70 L176.30 165.00 L180.10 166.50 L183.30 166.50 L187.80 165.81 L191.60 166.63 L195.50 165.65 L200.50 168.41 L204.40 169.45 L207.50 169.78 L210.70 167.21 L214.50 166.06 L218.40 166.70 L222.20 171.14 L226.00 171.88 L228.00 170.60 L234.40 169.35 L240.70 168.79 L247.10 169.44 L253.40 171.38 L259.80 171.43 L266.20 172.17 L270.00 169.60 L272.00 169.00 L275.80 171.50 L279.60 174.10 L284.70 174.70 L291.10 175.40 L297.40 176.00 L302.50 174.10 L303.60 173.00 L308.70 173.90 L312.50 175.60 L317.00 173.00 L319.50 174.50 L322.10 177.10 L324.60 177.70 L326.70 176.40" fill="none" stroke="#a52a2a" stroke-width="1.3" stroke-linecap="round" stroke-dasharray="0.01 4.3"/>
<line x1="37.80" y1="182.20" x2="327.00" y2="182.20" stroke="#000" stroke-width="1.2" stroke-dasharray="4.2 4.3" stroke-dashoffset="0.9"/>
<rect x="37.80" y="2.00" width="289.20" height="193.90" fill="none" stroke="#000" stroke-width="1.6"/>
<path d="M49.37 195.90 v-4.20 M49.37 2.00 v4.20 M60.94 195.90 v-4.20 M60.94 2.00 v4.20 M72.50 195.90 v-4.20 M72.50 2.00 v4.20 M84.07 195.90 v-4.20 M84.07 2.00 v4.20 M95.64 195.90 v-8.30 M95.64 2.00 v8.30 M107.21 195.90 v-4.20 M107.21 2.00 v4.20 M118.78 195.90 v-4.20 M118.78 2.00 v4.20 M130.34 195.90 v-4.20 M130.34 2.00 v4.20 M141.91 195.90 v-4.20 M141.91 2.00 v4.20 M153.48 195.90 v-8.30 M153.48 2.00 v8.30 M165.05 195.90 v-4.20 M165.05 2.00 v4.20 M176.62 195.90 v-4.20 M176.62 2.00 v4.20 M188.18 195.90 v-4.20 M188.18 2.00 v4.20 M199.75 195.90 v-4.20 M199.75 2.00 v4.20 M211.32 195.90 v-8.30 M211.32 2.00 v8.30 M222.89 195.90 v-4.20 M222.89 2.00 v4.20 M234.46 195.90 v-4.20 M234.46 2.00 v4.20 M246.02 195.90 v-4.20 M246.02 2.00 v4.20 M257.59 195.90 v-4.20 M257.59 2.00 v4.20 M269.16 195.90 v-8.30 M269.16 2.00 v8.30 M280.73 195.90 v-4.20 M280.73 2.00 v4.20 M292.30 195.90 v-4.20 M292.30 2.00 v4.20 M303.86 195.90 v-4.20 M303.86 2.00 v4.20 M315.43 195.90 v-4.20 M315.43 2.00 v4.20 M37.80 190.85 h4.20 M327.00 190.85 h-4.20 M37.80 182.20 h8.30 M327.00 182.20 h-8.30 M37.80 173.55 h4.20 M327.00 173.55 h-4.20 M37.80 164.90 h4.20 M327.00 164.90 h-4.20 M37.80 156.25 h4.20 M327.00 156.25 h-4.20 M37.80 147.60 h8.30 M327.00 147.60 h-8.30 M37.80 138.95 h4.20 M327.00 138.95 h-4.20 M37.80 130.30 h4.20 M327.00 130.30 h-4.20 M37.80 121.65 h4.20 M327.00 121.65 h-4.20 M37.80 113.00 h8.30 M327.00 113.00 h-8.30 M37.80 104.35 h4.20 M327.00 104.35 h-4.20 M37.80 95.70 h4.20 M327.00 95.70 h-4.20 M37.80 87.05 h4.20 M327.00 87.05 h-4.20 M37.80 78.40 h8.30 M327.00 78.40 h-8.30 M37.80 69.75 h4.20 M327.00 69.75 h-4.20 M37.80 61.10 h4.20 M327.00 61.10 h-4.20 M37.80 52.45 h4.20 M327.00 52.45 h-4.20 M37.80 43.80 h8.30 M327.00 43.80 h-8.30 M37.80 35.15 h4.20 M327.00 35.15 h-4.20 M37.80 26.50 h4.20 M327.00 26.50 h-4.20 M37.80 17.85 h4.20 M327.00 17.85 h-4.20 M37.80 9.20 h8.30 M327.00 9.20 h-8.30" fill="none" stroke="#000" stroke-width="1.1"/>
<g opacity="0.999">
<text class="s" x="37.80" y="215.3" text-anchor="middle">0</text>
<text class="s" x="95.64" y="215.3" text-anchor="middle">1</text>
<text class="s" x="153.48" y="215.3" text-anchor="middle">2</text>
<text class="s" x="211.32" y="215.3" text-anchor="middle">3</text>
<text class="s" x="269.16" y="215.3" text-anchor="middle">4</text>
<text class="s" x="327.00" y="215.3" text-anchor="middle">5</text>
<text class="s" transform="translate(26.8 182.20) rotate(-90)" text-anchor="middle">1</text>
<text class="s" transform="translate(26.8 147.60) rotate(-90)" text-anchor="middle">1.2</text>
<text class="s" transform="translate(26.8 113.00) rotate(-90)" text-anchor="middle">1.4</text>
<text class="s" transform="translate(26.8 78.40) rotate(-90)" text-anchor="middle">1.6</text>
<text class="s" transform="translate(26.8 43.80) rotate(-90)" text-anchor="middle">1.8</text>
<text class="s" transform="translate(26.8 9.20) rotate(-90)" text-anchor="middle">2</text>
<text x="182.5" y="233.0" font-size="12.7" text-anchor="middle">Distance r (Mpc)</text>
<text transform="translate(10.4 99.6) rotate(-90)" font-size="12.7" text-anchor="middle">D</text>
<line x1="107.8" y1="26.80" x2="135.6" y2="26.80" stroke="#a020f0" stroke-width="1.9"/>
<text x="147.8" y="30.00" font-size="15.6">D</text>
<text x="159.5" y="29.60" font-size="17.2">(</text>
<text x="163.9" y="30.00" font-size="15.6">Y</text>
<text x="176.7" y="33.20" font-size="10.4" textLength="7.5" lengthAdjust="spacingAndGlyphs">fil</text>
<text x="184.5" y="34.90" font-size="6.95" textLength="24.2" lengthAdjust="spacingAndGlyphs">200–400</text>
<text x="208.9" y="30.00" font-size="13.5">,</text>
<text x="217.3" y="30.00" font-size="15.6">X</text>
<text x="228.1" y="33.20" font-size="10.4" textLength="22.2" lengthAdjust="spacingAndGlyphs">photo</text>
<text x="250.6" y="34.90" font-size="6.95" textLength="24.6" lengthAdjust="spacingAndGlyphs">200–800</text>
<text x="275.3" y="29.60" font-size="17.2">)</text>
<path d="M108.7 44.22 H135.6" fill="none" stroke="#a020f0" stroke-width="2.0" stroke-linecap="round" stroke-dasharray="0.01 8.33"/>
<text x="147.8" y="48.00" font-size="15.6">D</text>
<text x="159.5" y="47.60" font-size="17.2">(</text>
<text x="163.9" y="48.00" font-size="15.6">Y</text>
<text x="176.7" y="51.20" font-size="10.4" textLength="7.5" lengthAdjust="spacingAndGlyphs">fil</text>
<text x="184.5" y="52.90" font-size="6.95" textLength="24.2" lengthAdjust="spacingAndGlyphs">200–400</text>
<text x="208.9" y="48.00" font-size="13.5">,</text>
<text x="217.3" y="48.00" font-size="15.6">X</text>
<text x="228.1" y="51.20" font-size="10.4" textLength="22.2" lengthAdjust="spacingAndGlyphs">photo</text>
<text x="250.6" y="52.90" font-size="6.95" textLength="24.6" lengthAdjust="spacingAndGlyphs">200–400</text>
<text x="275.3" y="47.60" font-size="17.2">)</text>
<line x1="107.8" y1="61.64" x2="135.6" y2="61.64" stroke="#00e0ee" stroke-width="1.9"/>
<text x="147.8" y="65.00" font-size="15.6">D</text>
<text x="159.5" y="64.60" font-size="17.2">(</text>
<text x="163.9" y="65.00" font-size="15.6">Y</text>
<text x="176.7" y="68.20" font-size="10.4" textLength="7.5" lengthAdjust="spacingAndGlyphs">fil</text>
<text x="184.5" y="69.90" font-size="6.95" textLength="24.2" lengthAdjust="spacingAndGlyphs">400–600</text>
<text x="208.9" y="65.00" font-size="13.5">,</text>
<text x="217.3" y="65.00" font-size="15.6">X</text>
<text x="228.1" y="68.20" font-size="10.4" textLength="22.2" lengthAdjust="spacingAndGlyphs">photo</text>
<text x="250.6" y="69.90" font-size="6.95" textLength="24.6" lengthAdjust="spacingAndGlyphs">200–800</text>
<text x="275.3" y="64.60" font-size="17.2">)</text>
<path d="M108.7 79.06 H135.6" fill="none" stroke="#00e0ee" stroke-width="2.0" stroke-linecap="round" stroke-dasharray="0.01 8.33"/>
<text x="147.8" y="83.00" font-size="15.6">D</text>
<text x="159.5" y="82.60" font-size="17.2">(</text>
<text x="163.9" y="83.00" font-size="15.6">Y</text>
<text x="176.7" y="86.20" font-size="10.4" textLength="7.5" lengthAdjust="spacingAndGlyphs">fil</text>
<text x="184.5" y="87.90" font-size="6.95" textLength="24.2" lengthAdjust="spacingAndGlyphs">400–600</text>
<text x="208.9" y="83.00" font-size="13.5">,</text>
<text x="217.3" y="83.00" font-size="15.6">X</text>
<text x="228.1" y="86.20" font-size="10.4" textLength="22.2" lengthAdjust="spacingAndGlyphs">photo</text>
<text x="250.6" y="87.90" font-size="6.95" textLength="24.6" lengthAdjust="spacingAndGlyphs">400–600</text>
<text x="275.3" y="82.60" font-size="17.2">)</text>
<line x1="107.8" y1="96.48" x2="135.6" y2="96.48" stroke="#a52a2a" stroke-width="1.9"/>
<text x="147.8" y="100.00" font-size="15.6">D</text>
<text x="159.5" y="99.60" font-size="17.2">(</text>
<text x="163.9" y="100.00" font-size="15.6">Y</text>
<text x="176.7" y="103.20" font-size="10.4" textLength="7.5" lengthAdjust="spacingAndGlyphs">fil</text>
<text x="184.5" y="104.90" font-size="6.95" textLength="24.2" lengthAdjust="spacingAndGlyphs">600–800</text>
<text x="208.9" y="100.00" font-size="13.5">,</text>
<text x="217.3" y="100.00" font-size="15.6">X</text>
<text x="228.1" y="103.20" font-size="10.4" textLength="22.2" lengthAdjust="spacingAndGlyphs">photo</text>
<text x="250.6" y="104.90" font-size="6.95" textLength="24.6" lengthAdjust="spacingAndGlyphs">200–800</text>
<text x="275.3" y="99.60" font-size="17.2">)</text>
<path d="M108.7 113.90 H135.6" fill="none" stroke="#a52a2a" stroke-width="2.0" stroke-linecap="round" stroke-dasharray="0.01 8.33"/>
<text x="147.8" y="118.00" font-size="15.6">D</text>
<text x="159.5" y="117.60" font-size="17.2">(</text>
<text x="163.9" y="118.00" font-size="15.6">Y</text>
<text x="176.7" y="121.20" font-size="10.4" textLength="7.5" lengthAdjust="spacingAndGlyphs">fil</text>
<text x="184.5" y="122.90" font-size="6.95" textLength="24.2" lengthAdjust="spacingAndGlyphs">600–800</text>
<text x="208.9" y="118.00" font-size="13.5">,</text>
<text x="217.3" y="118.00" font-size="15.6">X</text>
<text x="228.1" y="121.20" font-size="10.4" textLength="22.2" lengthAdjust="spacingAndGlyphs">photo</text>
<text x="250.6" y="122.90" font-size="6.95" textLength="24.6" lengthAdjust="spacingAndGlyphs">600–800</text>
<text x="275.3" y="117.60" font-size="17.2">)</text>
</g>
</svg></body></html>
